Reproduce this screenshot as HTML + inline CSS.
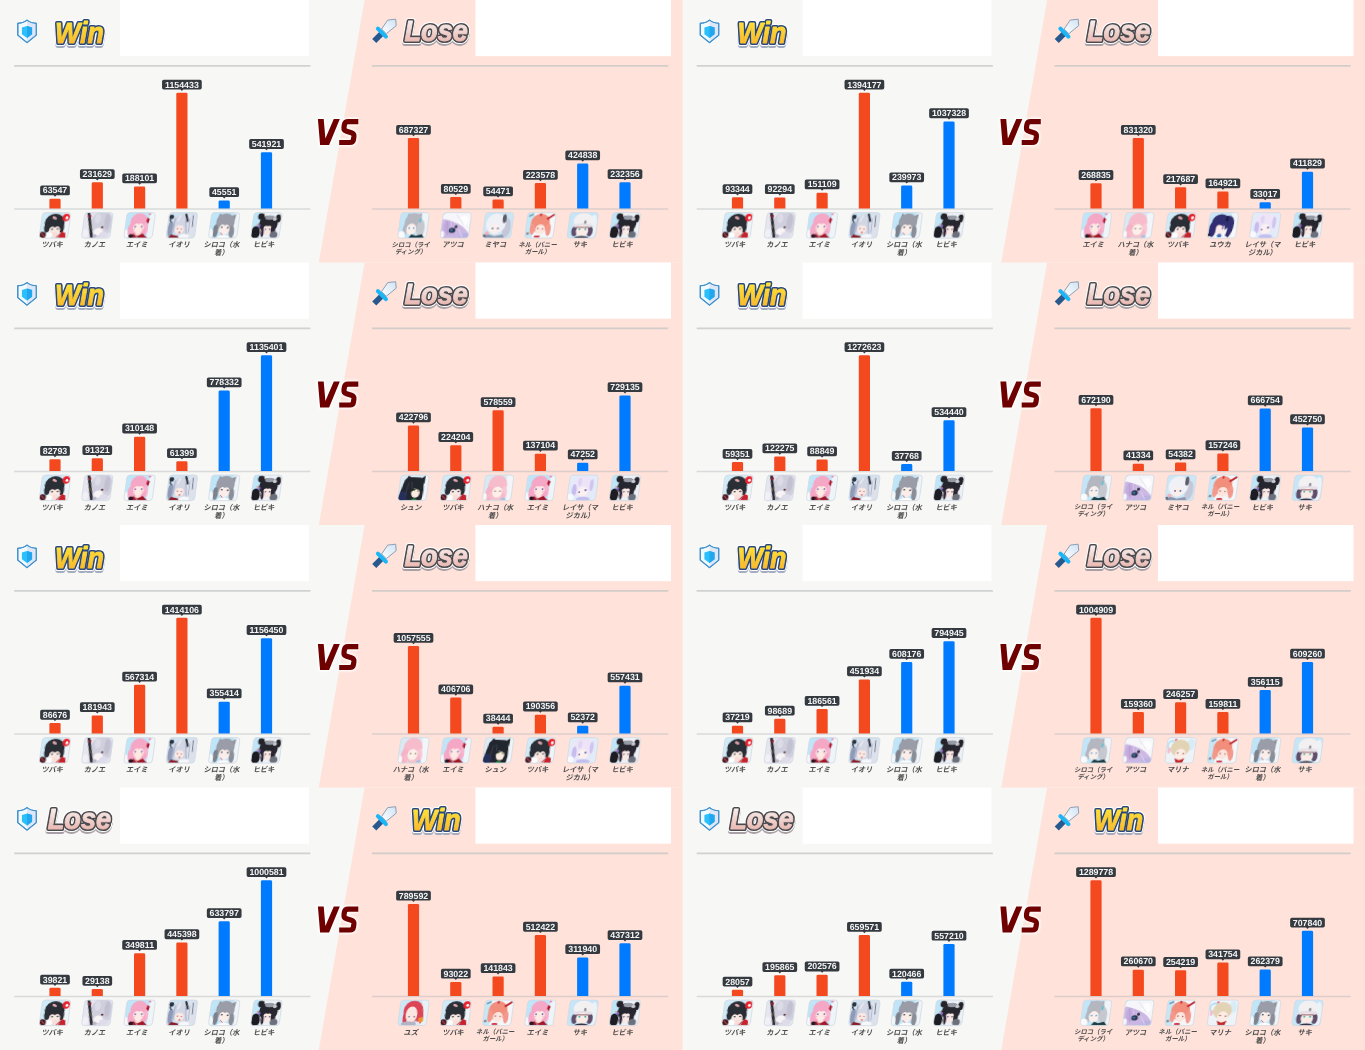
<!DOCTYPE html>
<html lang="ja"><head><meta charset="utf-8"><title>Battle results</title>
<style>
html,body{margin:0;padding:0;background:#f7f7f5;}
body{width:1365px;height:1050px;overflow:hidden;font-family:"Liberation Sans",sans-serif;}
svg{display:block;font-family:"Liberation Sans",sans-serif;opacity:0.999;}
.v{text-rendering:geometricPrecision;font-size:8.8px;font-weight:700;fill:#f6f6f6;text-anchor:middle;}
.n{fill:#4e4e4e;}
.n text{font-family:"Liberation Sans","Noto Sans CJK JP",sans-serif;font-weight:700;text-anchor:middle;}
.bd{fill:#343a40;}
.r{fill:#f4481f;}
.b{fill:#007bff;}
.ax{stroke:#b2b6bd;stroke-opacity:0.45;stroke-width:1.65;}
.dv{stroke:#c3c6c5;stroke-opacity:0.75;stroke-width:1.6;}
.hd{font-weight:700;font-style:italic;font-size:29px;}
</style></head><body>
<svg width="1365" height="1050" viewBox="0 0 1365 1050">
<defs><clipPath id="avc"><rect width="28.8" height="25.5" rx="3"/></clipPath><filter id="avb" x="-10%" y="-10%" width="120%" height="120%"><feGaussianBlur stdDeviation="0.55"/></filter><filter id="glow" x="-20%" y="-20%" width="140%" height="140%"><feGaussianBlur stdDeviation="1.1"/></filter><filter id="sh" x="-20%" y="-20%" width="140%" height="150%"><feGaussianBlur stdDeviation="0.5"/></filter><linearGradient id="gw" x1="0" y1="0" x2="0" y2="1"><stop offset="0.1" stop-color="#ffe43a"/><stop offset="1" stop-color="#f8b02a"/></linearGradient><linearGradient id="gl" x1="0" y1="0" x2="0" y2="1"><stop offset="0.15" stop-color="#f8f1ef"/><stop offset="1" stop-color="#e6aaa2"/></linearGradient><linearGradient id="gb" x1="0" y1="1" x2="1" y2="0"><stop offset="0" stop-color="#ffffff"/><stop offset="1" stop-color="#cfe3f4"/></linearGradient><g id="av-tsubaki"><g transform="matrix(0.985 0 -0.137 1 3.49 0)"><g clip-path="url(#avc)" filter="url(#avb)"><rect x="-2" y="-2" width="33" height="30" fill="#d0eaf8"/><rect x="22" y="-2" width="33" height="30" fill="#eef5f9"/><ellipse cx="13.7" cy="10.2" rx="10.1" ry="9.2" fill="#2b2d35"/><ellipse cx="6.6" cy="15" rx="3" ry="5" fill="#2b2d35"/><ellipse cx="21.4" cy="15" rx="2.6" ry="5" fill="#2b2d35"/><ellipse cx="14.6" cy="17.8" rx="5.6" ry="4.8" fill="#fae8e2"/><ellipse cx="15.6" cy="22.6" rx="2.6" ry="3.2" fill="#f9ddd6"/><path d="M8.4 16 Q11 12.6 14.6 15 Q18 12.4 21.2 16 L21.2 10 L8.4 10z" fill="#2b2d35"/><ellipse cx="12" cy="16.6" rx="1.2" ry="0.8" fill="#35454c"/><ellipse cx="17.6" cy="16.4" rx="1.2" ry="0.8" fill="#35454c"/><ellipse cx="13" cy="5.4" rx="2.4" ry="1.2" fill="#e3aab4" transform="rotate(25 13 5.4)"/><ellipse cx="24.8" cy="4.8" rx="3.7" ry="3.9" fill="#e8222e"/><ellipse cx="25.5" cy="5.2" rx="1.3" ry="1.5" fill="#fff"/><ellipse cx="9.3" cy="23" rx="3.3" ry="3" fill="#fff"/><path d="M18.6 25.5 L22.4 18.8 L26 20.4 L26.8 25.5z" fill="#c8202c"/><path d="M17.2 24.8 L22.4 19.6" stroke="#c23038" stroke-width="1.1" stroke-linecap="round" fill="none"/><ellipse cx="2.8" cy="22.6" rx="3.8" ry="3.6" fill="#4c1a22"/><path d="M1.5 20.5 L5.5 24.5" stroke="#c85868" stroke-width="0.9" stroke-linecap="round" fill="none"/></g><rect width="28.8" height="25.5" rx="3" fill="none" stroke="#d2dae3" stroke-width="0.8"/></g></g><g id="av-kanoe"><g transform="matrix(0.985 0 -0.137 1 3.49 0)"><g clip-path="url(#avc)" filter="url(#avb)"><rect x="-2" y="-2" width="33" height="30" fill="#e6e5f0"/><ellipse cx="18.5" cy="11.5" rx="11.5" ry="13" fill="#d0cfdd"/><ellipse cx="24" cy="9" rx="3" ry="8" fill="#c2c1d2"/><ellipse cx="14" cy="6" rx="3" ry="5" fill="#dcdbe6"/><ellipse cx="16.2" cy="19.2" rx="4.8" ry="3.8" fill="#f8f3f5"/><ellipse cx="22" cy="22" rx="4.5" ry="3" fill="#dedce8"/><path d="M2.6 0 L5.6 0 L11.8 25.5 L8.8 25.5z" fill="#2d2e35"/><ellipse cx="5.8" cy="3.6" rx="1.5" ry="1.5" fill="#8a2430"/><path d="M7 13 L7.6 15" stroke="#a09030" stroke-width="0.6" stroke-linecap="round" fill="none"/><ellipse cx="19.6" cy="14.6" rx="1.3" ry="1" fill="#5a2a30"/><ellipse cx="3" cy="21" rx="3" ry="4.5" fill="#f0f0f6"/><ellipse cx="13" cy="23.5" rx="2" ry="2" fill="#b8b6c8"/></g><rect width="28.8" height="25.5" rx="3" fill="none" stroke="#d2dae3" stroke-width="0.8"/></g></g><g id="av-eimi"><g transform="matrix(0.985 0 -0.137 1 3.49 0)"><g clip-path="url(#avc)" filter="url(#avb)"><rect x="-2" y="-2" width="33" height="30" fill="#bfe5f8"/><rect x="23" y="-2" width="33" height="30" fill="#eef5f9"/><ellipse cx="1" cy="22" rx="5" ry="5" fill="#f4f8fa"/><ellipse cx="13.4" cy="9.4" rx="8.8" ry="9" fill="#f5a7c6"/><ellipse cx="5.8" cy="17.5" rx="3" ry="6.5" fill="#f5a7c6"/><ellipse cx="20.6" cy="16" rx="2.8" ry="6" fill="#f7b4cd"/><ellipse cx="13.4" cy="18.6" rx="8.4" ry="5" fill="#f5a7c6"/><ellipse cx="13.8" cy="20" rx="2.6" ry="2.6" fill="#fbe3dc"/><ellipse cx="13.6" cy="15.2" rx="5.4" ry="5.2" fill="#fdeae4"/><path d="M8 13 Q10.5 9.5 13.6 11.6 Q17 9.5 19.4 13 L19.4 8 L8 8z" fill="#f5a7c6"/><ellipse cx="10.2" cy="14.2" rx="0.9" ry="1" fill="#8668b8"/><ellipse cx="16.8" cy="14" rx="0.9" ry="1" fill="#8668b8"/><ellipse cx="9.2" cy="16.6" rx="1.2" ry="0.7" fill="#f8c0c8"/><ellipse cx="17.8" cy="16.6" rx="1.2" ry="0.7" fill="#f8c0c8"/><path d="M21.4 4.6 L24 6.4 L22.8 11.4 L20.6 8.6z" fill="#b01830"/><ellipse cx="23.4" cy="1.6" rx="1.4" ry="1" fill="#f27aa8"/><path d="M5.6 25.5 L9 21 L13.6 23.2 L18.6 20.8 L24 25.5z" fill="#a31828"/><ellipse cx="6.8" cy="23.6" rx="2.4" ry="2.2" fill="#2a1820"/><path d="M11 22 L13.6 25" stroke="#d8d0d8" stroke-width="0.8" stroke-linecap="round" fill="none"/></g><rect width="28.8" height="25.5" rx="3" fill="none" stroke="#d2dae3" stroke-width="0.8"/></g></g><g id="av-iori"><g transform="matrix(0.985 0 -0.137 1 3.49 0)"><g clip-path="url(#avc)" filter="url(#avb)"><rect x="-2" y="-2" width="33" height="30" fill="#cfe3f1"/><ellipse cx="13.5" cy="12" rx="9.2" ry="10.4" fill="#d3d7e4"/><ellipse cx="24" cy="13" rx="5.5" ry="13" fill="#dde1eb"/><ellipse cx="3.4" cy="16.6" rx="3.2" ry="7.6" fill="#8e9ab8"/><path d="M7 6 L5.4 20" stroke="#aeb6cc" stroke-width="1.6" stroke-linecap="round" fill="none"/><path d="M17.6 8 L20 22" stroke="#b4bbcf" stroke-width="1.4" stroke-linecap="round" fill="none"/><path d="M12 3 L9 10" stroke="#eef0f6" stroke-width="1.2" stroke-linecap="round" fill="none"/><ellipse cx="12.2" cy="16.8" rx="4.6" ry="4.6" fill="#f9eae6"/><path d="M7.8 15 Q10 11 13 13.4 Q15 11.4 17 15 L17 9 L7.8 9z" fill="#d3d7e4"/><ellipse cx="2.9" cy="4.4" rx="2.5" ry="2.3" fill="#2c3242"/><path d="M1.6 7 L3 9.4" stroke="#2c3242" stroke-width="1.4" stroke-linecap="round" fill="none"/><path d="M16 1.2 L18.2 0.8 L21 8.8 L19 9.6z" fill="#2c3242"/><path d="M24.6 3 L25.2 14" stroke="#6a7490" stroke-width="1" stroke-linecap="round" fill="none"/><path d="M21.4 6 L22 20" stroke="#aab2c8" stroke-width="0.9" stroke-linecap="round" fill="none"/><ellipse cx="10.4" cy="16" rx="0.8" ry="0.6" fill="#b86068"/><ellipse cx="14.4" cy="16.4" rx="0.8" ry="0.6" fill="#b86068"/><ellipse cx="12.8" cy="19.8" rx="1.1" ry="0.7" fill="#c05058"/><path d="M1.6 25.5 L4.6 21.8 L11.6 23.2 L12.6 25.5z" fill="#8a1c26"/><ellipse cx="18" cy="24" rx="5" ry="2.6" fill="#f6f7fa"/></g><rect width="28.8" height="25.5" rx="3" fill="none" stroke="#d2dae3" stroke-width="0.8"/></g></g><g id="av-shirokos"><g transform="matrix(0.985 0 -0.137 1 3.49 0)"><g clip-path="url(#avc)" filter="url(#avb)"><rect x="-2" y="-2" width="33" height="30" fill="#bfe5f8"/><rect x="23" y="-2" width="33" height="30" fill="#eef4f8"/><path d="M6.4 7.4 L8.6 0.8 L13 4z" fill="#90939e"/><path d="M20 4 L25.2 1.2 L24.4 8.4z" fill="#90939e"/><ellipse cx="15.2" cy="10" rx="9.4" ry="9.2" fill="#9a9da8"/><ellipse cx="6.1" cy="18.4" rx="2.7" ry="6.6" fill="#7e828c"/><ellipse cx="22.6" cy="19.6" rx="2.7" ry="6.4" fill="#8a8e98"/><ellipse cx="14.8" cy="16.6" rx="5.4" ry="5.8" fill="#fbedea"/><path d="M9.4 14 Q12 10.6 15 12.8 Q18 10.8 20.4 14.4 L20.4 8 L9.4 8z" fill="#9a9da8"/><ellipse cx="12.2" cy="14.6" rx="1.1" ry="0.8" fill="#33474c"/><ellipse cx="18.2" cy="15.2" rx="1.1" ry="0.8" fill="#33474c"/><path d="M11.8 20.4 L13.6 22.2" stroke="#c03848" stroke-width="0.9" stroke-linecap="round" fill="none"/><ellipse cx="15" cy="25" rx="6.4" ry="2.4" fill="#fcfcfd"/><ellipse cx="1.5" cy="21" rx="2.5" ry="5" fill="#f2f7fa"/></g><rect width="28.8" height="25.5" rx="3" fill="none" stroke="#d2dae3" stroke-width="0.8"/></g></g><g id="av-hibiki"><g transform="matrix(0.985 0 -0.137 1 3.49 0)"><g clip-path="url(#avc)" filter="url(#avb)"><rect x="-2" y="-2" width="33" height="30" fill="#bfe5f8"/><rect x="8" y="-2" width="33" height="30" fill="#ecf1f6"/><ellipse cx="8" cy="4" rx="3.4" ry="3.4" fill="#25222a"/><ellipse cx="25.4" cy="6" rx="2.8" ry="4.2" fill="#25222a"/><ellipse cx="16.1" cy="11.4" rx="9.6" ry="8.4" fill="#28252e"/><ellipse cx="16.6" cy="5" rx="4.6" ry="2.2" fill="#979ba6"/><ellipse cx="22" cy="6.4" rx="2" ry="1.6" fill="#c8ccd4"/><ellipse cx="15.8" cy="17.6" rx="4.7" ry="5" fill="#f9e9e5"/><path d="M10.6 15.6 Q13 11.6 16 13.8 Q19 11.8 21 15.6 L21 10 L10.6 10z" fill="#28252e"/><ellipse cx="21.6" cy="17.4" rx="2.4" ry="6.4" fill="#2b2632"/><ellipse cx="11" cy="20" rx="1.5" ry="4.4" fill="#34283e"/><ellipse cx="4" cy="20" rx="4.7" ry="6.6" fill="#1e1c23"/><ellipse cx="6.9" cy="13.2" rx="1.3" ry="1.6" fill="#8a70d0"/><ellipse cx="5.2" cy="11.8" rx="0.8" ry="0.8" fill="#e09050"/><ellipse cx="22.8" cy="22.2" rx="4" ry="3.4" fill="#6c707c"/><ellipse cx="13.8" cy="16.6" rx="0.9" ry="0.7" fill="#5a4a70"/><ellipse cx="18" cy="16.6" rx="0.9" ry="0.7" fill="#5a4a70"/></g><rect width="28.8" height="25.5" rx="3" fill="none" stroke="#d2dae3" stroke-width="0.8"/></g></g><g id="av-shirokor"><g transform="matrix(0.985 0 -0.137 1 3.49 0)"><g clip-path="url(#avc)" filter="url(#avb)"><rect x="-2" y="-2" width="33" height="30" fill="#c2e5f7"/><rect x="21" y="-2" width="33" height="30" fill="#eef4f8"/><path d="M6.5 6 L8 0.6 L12 3z" fill="#a9abb6"/><path d="M17 2.6 L21.6 0.6 L21.6 7z" fill="#a9abb6"/><ellipse cx="14" cy="10" rx="9" ry="9.8" fill="#b4b6c0"/><ellipse cx="22" cy="16" rx="4" ry="9" fill="#c6c8d0"/><ellipse cx="6.4" cy="17" rx="2.4" ry="6" fill="#b4b6c0"/><ellipse cx="12.6" cy="16.6" rx="5" ry="5.6" fill="#fbefea"/><ellipse cx="10.4" cy="15.4" rx="0.9" ry="0.9" fill="#4a9ee0"/><ellipse cx="15" cy="15.4" rx="0.9" ry="0.9" fill="#4a9ee0"/><ellipse cx="20.6" cy="8" rx="1" ry="2.4" fill="#58c0d0"/><path d="M10.5 25.5 L13.5 21.6 L18 23 L24 21.6 L27 25.5z" fill="#1c3a42"/><ellipse cx="3" cy="22.5" rx="4" ry="4" fill="#f8fafb"/></g><rect width="28.8" height="25.5" rx="3" fill="none" stroke="#d2dae3" stroke-width="0.8"/></g></g><g id="av-atsuko"><g transform="matrix(0.985 0 -0.137 1 3.49 0)"><g clip-path="url(#avc)" filter="url(#avb)"><rect x="-2" y="-2" width="33" height="30" fill="#ccb8e3"/><ellipse cx="7" cy="14" rx="5" ry="7" fill="#c3abdd"/><ellipse cx="16" cy="22" rx="8" ry="4" fill="#c9b6e4"/><ellipse cx="24" cy="23.5" rx="5" ry="3" fill="#b9b2e2"/><path d="M5 9 L7 22" stroke="#b69dd4" stroke-width="1.2" stroke-linecap="round" fill="none"/><path d="M9 9 L10 14" stroke="#d9c9ec" stroke-width="1.2" stroke-linecap="round" fill="none"/><path d="M18 17 L22 24" stroke="#d8c8ec" stroke-width="1.4" stroke-linecap="round" fill="none"/><path d="M-2 8 L-2 -2 L31 -2 L31 24 Q24 14.5 17.1 11.4 Q9 8 2 6.4z" fill="#f6f6fa"/><path d="M-2 -2 L8 -2 Q2 0 -2 6z" fill="#d4eaf7"/><ellipse cx="22" cy="8" rx="5" ry="5" fill="#fdfdfe"/><path d="M14 2 L22 12" stroke="#e6e6f0" stroke-width="1.2" stroke-linecap="round" fill="none"/><ellipse cx="11.3" cy="17.8" rx="3.4" ry="2.6" fill="#2a3850"/><ellipse cx="10.6" cy="17.6" rx="1.4" ry="1" fill="#3f78a8"/><ellipse cx="14.8" cy="14.2" rx="1.5" ry="1.7" fill="#3a3a4c"/><ellipse cx="1.4" cy="22" rx="2.4" ry="3.6" fill="#f4f6fa"/></g><rect width="28.8" height="25.5" rx="3" fill="none" stroke="#d2dae3" stroke-width="0.8"/></g></g><g id="av-miyako"><g transform="matrix(0.985 0 -0.137 1 3.49 0)"><g clip-path="url(#avc)" filter="url(#avb)"><rect x="-2" y="-2" width="33" height="30" fill="#cde6f5"/><ellipse cx="23" cy="15" rx="4.4" ry="9.5" fill="#c3c7d7"/><ellipse cx="12" cy="11" rx="10" ry="10" fill="#f0f1f7"/><ellipse cx="20.2" cy="6" rx="2" ry="4.6" fill="#5c5c68"/><ellipse cx="11.6" cy="16.6" rx="5" ry="5" fill="#fbefeb"/><ellipse cx="9.2" cy="15.8" rx="1" ry="0.9" fill="#5a62a0"/><ellipse cx="14.6" cy="15.8" rx="1" ry="0.9" fill="#5a62a0"/><path d="M2.5 25.5 L4.5 21.4 L12 23.6 L20 21.8 L22.5 25.5z" fill="#8d95ab"/><ellipse cx="4" cy="20.4" rx="2.2" ry="1.8" fill="#f2b2ba"/><ellipse cx="1.6" cy="23.6" rx="2.2" ry="2" fill="#6a7084"/></g><rect width="28.8" height="25.5" rx="3" fill="none" stroke="#d2dae3" stroke-width="0.8"/></g></g><g id="av-neru"><g transform="matrix(0.985 0 -0.137 1 3.49 0)"><g clip-path="url(#avc)" filter="url(#avb)"><rect x="-2" y="-2" width="33" height="30" fill="#c6e7f6"/><rect x="7" y="-2" width="33" height="30" fill="#f4f6f8"/><ellipse cx="14" cy="10.6" rx="9.6" ry="9.6" fill="#f28e7c"/><ellipse cx="6.6" cy="16.4" rx="2.6" ry="6" fill="#f3988a"/><ellipse cx="22.8" cy="17" rx="2.6" ry="6.4" fill="#f3988a"/><ellipse cx="14.6" cy="16.8" rx="5" ry="5" fill="#fce5dd"/><path d="M19.6 5.6 L26.8 1 L28.2 2.6 L21 7.4z" fill="#c0202e"/><ellipse cx="13.6" cy="2" rx="1.2" ry="1.6" fill="#c83040"/><path d="M1.5 3 L6 1 L6.5 2.2 L2 4.4z" fill="#6a90a8"/><ellipse cx="12.2" cy="24" rx="3.2" ry="1.3" fill="#d03444"/><ellipse cx="2.4" cy="21" rx="1.4" ry="1.4" fill="#8a8a92"/><ellipse cx="12" cy="16" rx="0.8" ry="0.8" fill="#b06060"/><ellipse cx="17" cy="16.4" rx="0.8" ry="0.8" fill="#b06060"/></g><rect width="28.8" height="25.5" rx="3" fill="none" stroke="#d2dae3" stroke-width="0.8"/></g></g><g id="av-saki"><g transform="matrix(0.985 0 -0.137 1 3.49 0)"><g clip-path="url(#avc)" filter="url(#avb)"><rect x="-2" y="-2" width="33" height="30" fill="#c6e5f6"/><ellipse cx="25" cy="14" rx="4" ry="12" fill="#ecf3f8"/><ellipse cx="6.8" cy="18.6" rx="3.2" ry="5.2" fill="#5e4e6c"/><ellipse cx="22.2" cy="18.6" rx="3.2" ry="5.2" fill="#5e4e6c"/><ellipse cx="14.5" cy="8" rx="10" ry="7.6" fill="#f3f0f2"/><ellipse cx="14.5" cy="13" rx="10.6" ry="2.4" fill="#e6e1e7"/><ellipse cx="14.5" cy="18.4" rx="6.2" ry="5.6" fill="#fbebe7"/><ellipse cx="11.6" cy="16.6" rx="1" ry="0.9" fill="#30b0a0"/><ellipse cx="17.6" cy="16.6" rx="1" ry="0.9" fill="#30b0a0"/><ellipse cx="16.6" cy="9.6" rx="1.2" ry="1.8" fill="#8a8a94"/><ellipse cx="14.5" cy="25.6" rx="7.4" ry="2.2" fill="#3a3048"/><path d="M8 14 L21 14 L21 15.4 L8 15.4z" fill="#b08890"/></g><rect width="28.8" height="25.5" rx="3" fill="none" stroke="#d2dae3" stroke-width="0.8"/></g></g><g id="av-hanako"><g transform="matrix(0.985 0 -0.137 1 3.49 0)"><g clip-path="url(#avc)" filter="url(#avb)"><rect x="-2" y="-2" width="33" height="30" fill="#d8e9f4"/><rect x="22" y="-2" width="33" height="30" fill="#f2f6f9"/><ellipse cx="13.6" cy="10" rx="9.6" ry="10" fill="#f6bccb"/><ellipse cx="6" cy="19" rx="4" ry="8" fill="#f5b4c6"/><ellipse cx="21" cy="18" rx="3" ry="7" fill="#f8c8d4"/><ellipse cx="14" cy="20" rx="8.6" ry="5" fill="#f6bccb"/><ellipse cx="14" cy="17" rx="5" ry="5.6" fill="#fdefea"/><ellipse cx="11.8" cy="16" rx="1" ry="0.7" fill="#8a7a60"/><ellipse cx="16.8" cy="16" rx="1" ry="0.7" fill="#8a7a60"/><ellipse cx="16" cy="24.6" rx="6" ry="2" fill="#f4c4cc"/><ellipse cx="21" cy="24" rx="2.4" ry="1.6" fill="#a8c0e0"/><ellipse cx="1.6" cy="22" rx="2.4" ry="4" fill="#f6f8fa"/></g><rect width="28.8" height="25.5" rx="3" fill="none" stroke="#d2dae3" stroke-width="0.8"/></g></g><g id="av-yuuka"><g transform="matrix(0.985 0 -0.137 1 3.49 0)"><g clip-path="url(#avc)" filter="url(#avb)"><rect x="-2" y="-2" width="33" height="30" fill="#c8e6f7"/><rect x="22" y="-2" width="33" height="30" fill="#eef4f8"/><path d="M-2 16 L30 16 L30 28 L-2 28z" fill="#f6f8fa"/><ellipse cx="4.2" cy="17" rx="3.6" ry="7.4" fill="#322d72"/><ellipse cx="12" cy="10" rx="9.2" ry="8.6" fill="#322d72"/><path d="M17 3 Q26 2 25.5 12 Q25 20 21 25 L17.6 23 Q21 15 18 8z" fill="#322d72"/><ellipse cx="18" cy="6.4" rx="1.6" ry="2.6" fill="#1e1c40"/><ellipse cx="12.2" cy="16.6" rx="4.6" ry="5.2" fill="#fbebe9"/><path d="M8 12 L14 9 L15.5 15 L13 13z" fill="#322d72"/><ellipse cx="14.6" cy="15.6" rx="0.9" ry="1" fill="#4a50c0"/><ellipse cx="12" cy="23" rx="2.4" ry="2" fill="#3a70b8"/><ellipse cx="1.6" cy="22" rx="1.6" ry="2" fill="#2a2840"/></g><rect width="28.8" height="25.5" rx="3" fill="none" stroke="#d2dae3" stroke-width="0.8"/></g></g><g id="av-reisa"><g transform="matrix(0.985 0 -0.137 1 3.49 0)"><g clip-path="url(#avc)" filter="url(#avb)"><rect x="-2" y="-2" width="33" height="30" fill="#e4ebf8"/><ellipse cx="14" cy="11" rx="10.4" ry="10.4" fill="#ede5f7"/><ellipse cx="6" cy="15" rx="2.4" ry="6" fill="#c6bcee"/><ellipse cx="23" cy="10" rx="2" ry="6" fill="#d0c4f0"/><ellipse cx="11" cy="7" rx="2" ry="4" fill="#e0d4f4"/><ellipse cx="15" cy="16.6" rx="5" ry="5" fill="#fdf1ef"/><ellipse cx="17.6" cy="15" rx="1.1" ry="1.1" fill="#5068c8"/><ellipse cx="11.4" cy="17" rx="0.9" ry="0.9" fill="#6060a0"/><ellipse cx="16" cy="24" rx="7" ry="2.4" fill="#c2bef0"/><ellipse cx="3" cy="22" rx="3.4" ry="3.4" fill="#f8f9fc"/></g><rect width="28.8" height="25.5" rx="3" fill="none" stroke="#d2dae3" stroke-width="0.8"/></g></g><g id="av-shun"><g transform="matrix(0.985 0 -0.137 1 3.49 0)"><g clip-path="url(#avc)" filter="url(#avb)"><rect x="-2" y="-2" width="33" height="30" fill="#dcebf5"/><rect x="24" y="-2" width="33" height="30" fill="#eef4f8"/><path d="M5 6 L8 0.4 L12 3z" fill="#24272f"/><path d="M20.4 3.6 L25.4 0.6 L25 9z" fill="#24272f"/><path d="M-1 25.5 L4.6 5 Q7 1.6 12 2 L21 2.6 Q24.6 6 24.6 12 Q25.4 20 23.6 25.5z" fill="#24272f"/><ellipse cx="4.6" cy="21.6" rx="4.2" ry="5.4" fill="#272e5c"/><path d="M9 8 L7 20" stroke="#343a48" stroke-width="1.2" stroke-linecap="round" fill="none"/><path d="M12 7 L13 13" stroke="#3a3f4c" stroke-width="1" stroke-linecap="round" fill="none"/><ellipse cx="17" cy="17.8" rx="4.2" ry="4.8" fill="#fbebe1"/><path d="M12.6 14 L21.4 12 L21.8 15 L17.4 14 L13.4 16.4z" fill="#24272f"/><ellipse cx="16.4" cy="24.8" rx="2.6" ry="1.5" fill="#2c8a48"/><ellipse cx="15.6" cy="15.4" rx="0.9" ry="0.8" fill="#88a838"/><ellipse cx="19.4" cy="15.8" rx="0.8" ry="0.7" fill="#5a6a30"/></g><rect width="28.8" height="25.5" rx="3" fill="none" stroke="#d2dae3" stroke-width="0.8"/></g></g><g id="av-marina"><g transform="matrix(0.985 0 -0.137 1 3.49 0)"><g clip-path="url(#avc)" filter="url(#avb)"><rect x="-2" y="-2" width="33" height="30" fill="#eef3f7"/><circle cx="5.4" cy="8" r="4.6" fill="none" stroke="#a8def4" stroke-width="1.6"/><ellipse cx="24" cy="7" rx="4" ry="6" fill="#d8ecf6"/><ellipse cx="13.6" cy="10.6" rx="9.6" ry="8.6" fill="#e3d3b5"/><ellipse cx="14.6" cy="16.8" rx="5.4" ry="5.6" fill="#fdece5"/><ellipse cx="11.8" cy="15.4" rx="1.1" ry="0.7" fill="#9a6a50"/><ellipse cx="17.6" cy="16" rx="1.1" ry="0.7" fill="#9a6a50"/><ellipse cx="8.4" cy="2.2" rx="1.4" ry="1" fill="#e86a7a"/><path d="M9 20.6 L14 22.6 L19.4 20.6 L17.4 25.5 L11 25.5z" fill="#c22a2a"/><ellipse cx="2.6" cy="13" rx="1.6" ry="3" fill="#f4c0d0"/></g><rect width="28.8" height="25.5" rx="3" fill="none" stroke="#d2dae3" stroke-width="0.8"/></g></g><g id="av-yuzu"><g transform="matrix(0.985 0 -0.137 1 3.49 0)"><g clip-path="url(#avc)" filter="url(#avb)"><rect x="-2" y="-2" width="33" height="30" fill="#cde7f6"/><rect x="22" y="-2" width="33" height="30" fill="#e9f1f7"/><ellipse cx="14" cy="11" rx="10" ry="10.6" fill="#dc4456"/><ellipse cx="21.4" cy="16" rx="3.4" ry="8" fill="#dc4456"/><ellipse cx="6.4" cy="18" rx="2.4" ry="6" fill="#d84054"/><ellipse cx="12.6" cy="14.4" rx="5.8" ry="8" fill="#fbe7e1"/><ellipse cx="10.4" cy="16.6" rx="1" ry="0.8" fill="#7a6a90"/><ellipse cx="15.6" cy="16.6" rx="1" ry="0.8" fill="#7a6a90"/><ellipse cx="22.6" cy="19.6" rx="2.6" ry="2.6" fill="#f0922e"/><ellipse cx="11" cy="23.8" rx="8" ry="2.4" fill="#b4b2c4"/><ellipse cx="20" cy="23.6" rx="2" ry="2" fill="#e8e8f0"/></g><rect width="28.8" height="25.5" rx="3" fill="none" stroke="#d2dae3" stroke-width="0.8"/></g></g><g id="shield"><path d="M10 0.6 Q6.6 3.6 0.4 3.9 L0.4 16.2 L10 24.1 L19.6 16.2 L19.6 3.9 Q13.4 3.6 10 0.6z" fill="#f1fbff" stroke="#3f90cc" stroke-width="1.15" stroke-linejoin="round"/><path d="M10 1.4 Q13.4 4 19 4.4 L19 15.9 L10 23.3z" fill="#dfe7f6"/><path d="M10 6.7 L4.7 8.3 L4.7 15.4 L10 19.2 L15.3 15.4 L15.3 8.3z" fill="#2bc0f9"/><path d="M10 6.7 L10 19.2 L15.3 15.4 L15.3 8.3z" fill="#22a6f0"/><path d="M10 0.6 Q6.6 3.6 0.4 3.9 L0.4 16.2 L10 24.1 L19.6 16.2 L19.6 3.9 Q13.4 3.6 10 0.6z" fill="none" stroke="#3f90cc" stroke-width="1.15" stroke-linejoin="round"/></g><g id="sword"><path d="M0.2 20.5 L4.3 24.6 L11.9 16.7 L7.9 12.8z" fill="#27598e"/><path d="M9.6 10.5 L15.7 1.6 L23.7 0.7 L24.2 7.2 L14.3 15.2z" fill="url(#gb)" stroke="#8f9fb4" stroke-width="1" stroke-linejoin="round"/><path d="M5.9 10.1 L13.9 18.1" stroke="#1cb6f7" stroke-width="4.1" stroke-linecap="round" fill="none"/></g><g id="vs"><g filter="url(#glow)" opacity="0.9"><path d="M17.9 14 L23.7 14 L25.4 33.4 L33.8 14 L39.8 14 L29.1 40.1 L20.1 40.1z" fill="#fff" stroke="#fff" stroke-width="3"/><path d="M58.3 16.6 L48.2 16.6 Q44.9 16.6 44.4 19.6 L44 22.4 Q43.7 25.3 46.6 26.2 L51.4 27.7 Q54.2 28.6 53.9 31.4 L53.5 34.4 Q53.1 37.5 49.8 37.5 L39.2 37.5" fill="none" stroke="#fff" stroke-width="8.2"/></g><path d="M17.9 14 L23.7 14 L25.4 33.4 L33.8 14 L39.8 14 L29.1 40.1 L20.1 40.1z" fill="#6e0000"/><path d="M58.3 16.6 L48.2 16.6 Q44.9 16.6 44.4 19.6 L44 22.4 Q43.7 25.3 46.6 26.2 L51.4 27.7 Q54.2 28.6 53.9 31.4 L53.5 34.4 Q53.1 37.5 49.8 37.5 L39.2 37.5" fill="none" stroke="#6e0000" stroke-width="5.2"/></g><text id="t-win">Win</text><text id="t-lose">Lose</text></defs>
<rect width="1365" height="1050" fill="#f7f7f5"/>
<g transform="translate(0 0)">
<path fill="#ffe2d9" d="M364.6 0 H682.5 V262.5 H318.8 z"/>
<rect x="120" y="0" width="189" height="56.2" fill="#fff"/>
<rect x="475.5" y="0" width="195.5" height="56.2" fill="#fff"/>
<use href="#shield" transform="translate(17.4 19.5) scale(0.96)"/>
<use href="#sword" x="372" y="18.5"/>
<g class="hd" font-size="26" text-anchor="middle" stroke-linejoin="round" transform="translate(79.4 42.7) scale(0.925 1)">
<use href="#t-win" y="1.8" fill="#a4acbf" stroke="#a4acbf" stroke-width="5.8" filter="url(#sh)"/>
<use href="#t-win" fill="#fff" stroke="#fff" stroke-width="6.2"/>
<use href="#t-win" fill="#27477e" stroke="#27477e" stroke-width="4.2"/>
<text fill="url(#gw)" stroke="url(#gw)" stroke-width="0.9">Win</text>
</g>
<g class="hd" font-size="25.4" text-anchor="middle" stroke-linejoin="round" transform="translate(436.2 41.3) scale(0.935 1)">
<use href="#t-lose" y="1.8" fill="#a8a0a6" stroke="#a8a0a6" stroke-width="5.8" filter="url(#sh)"/>
<use href="#t-lose" fill="#fff" stroke="#fff" stroke-width="6.2"/>
<use href="#t-lose" fill="#4a4a4e" stroke="#4a4a4e" stroke-width="4.2"/>
<text fill="url(#gl)" stroke="url(#gl)" stroke-width="0.9">Lose</text>
</g>
<use href="#vs" x="300" y="105"/>
<line class="dv" x1="14.2" y1="65.9" x2="310.4" y2="65.9"/>
<line class="ax" x1="14.2" y1="209" x2="310.4" y2="209"/>
<path class="r" d="M49.4 208.6 V200.03 q0 -1.4 1.4 -1.4 h8.4 q1.4 0 1.4 1.4 V208.6 z"/>
<path class="bd" d="M41.85 185.53 h26.3 a1.7 1.7 0 0 1 1.7 1.7 v6.4 a1.7 1.7 0 0 1 -1.7 1.7 h-11.75 l-1.4 1.4 l-1.4 -1.4 h-11.75 a1.7 1.7 0 0 1 -1.7 -1.7 v-6.4 a1.7 1.7 0 0 1 1.7 -1.7 z"/>
<text class="v" x="55" y="193.33">63547</text>
<use href="#av-tsubaki" x="39.1" y="212.6"/>
<g class="n"><title>ツバキ</title>
<text transform="translate(52.2 247.4) skewX(-12)" font-size="7.2">ツバキ</text>
</g>
<path class="r" d="M91.7 208.6 V183.73 q0 -1.4 1.4 -1.4 h8.4 q1.4 0 1.4 1.4 V208.6 z"/>
<path class="bd" d="M81.65 169.23 h31.3 a1.7 1.7 0 0 1 1.7 1.7 v6.4 a1.7 1.7 0 0 1 -1.7 1.7 h-14.25 l-1.4 1.4 l-1.4 -1.4 h-14.25 a1.7 1.7 0 0 1 -1.7 -1.7 v-6.4 a1.7 1.7 0 0 1 1.7 -1.7 z"/>
<text class="v" x="97.3" y="177.03">231629</text>
<use href="#av-kanoe" x="81.4" y="212.6"/>
<g class="n"><title>カノエ</title>
<text transform="translate(94.5 247.4) skewX(-12)" font-size="7.2">カノエ</text>
</g>
<path class="r" d="M134 208.6 V187.95 q0 -1.4 1.4 -1.4 h8.4 q1.4 0 1.4 1.4 V208.6 z"/>
<path class="bd" d="M123.95 173.45 h31.3 a1.7 1.7 0 0 1 1.7 1.7 v6.4 a1.7 1.7 0 0 1 -1.7 1.7 h-14.25 l-1.4 1.4 l-1.4 -1.4 h-14.25 a1.7 1.7 0 0 1 -1.7 -1.7 v-6.4 a1.7 1.7 0 0 1 1.7 -1.7 z"/>
<text class="v" x="139.6" y="181.25">188101</text>
<use href="#av-eimi" x="123.7" y="212.6"/>
<g class="n"><title>エイミ</title>
<text transform="translate(136.8 247.4) skewX(-12)" font-size="7.2">エイミ</text>
</g>
<path class="r" d="M176.3 208.6 V94.2 q0 -1.4 1.4 -1.4 h8.4 q1.4 0 1.4 1.4 V208.6 z"/>
<path class="bd" d="M163.75 79.7 h36.3 a1.7 1.7 0 0 1 1.7 1.7 v6.4 a1.7 1.7 0 0 1 -1.7 1.7 h-16.75 l-1.4 1.4 l-1.4 -1.4 h-16.75 a1.7 1.7 0 0 1 -1.7 -1.7 v-6.4 a1.7 1.7 0 0 1 1.7 -1.7 z"/>
<text class="v" x="181.9" y="87.5">1154433</text>
<use href="#av-iori" x="166" y="212.6"/>
<g class="n"><title>イオリ</title>
<text transform="translate(179.1 247.4) skewX(-12)" font-size="7.2">イオリ</text>
</g>
<path class="b" d="M218.6 208.6 V201.78 q0 -1.4 1.4 -1.4 h8.4 q1.4 0 1.4 1.4 V208.6 z"/>
<path class="bd" d="M211.05 187.28 h26.3 a1.7 1.7 0 0 1 1.7 1.7 v6.4 a1.7 1.7 0 0 1 -1.7 1.7 h-11.75 l-1.4 1.4 l-1.4 -1.4 h-11.75 a1.7 1.7 0 0 1 -1.7 -1.7 v-6.4 a1.7 1.7 0 0 1 1.7 -1.7 z"/>
<text class="v" x="224.2" y="195.08">45551</text>
<use href="#av-shirokos" x="208.3" y="212.6"/>
<g class="n"><title>シロコ（水着）</title>
<text transform="translate(221.4 247.4) skewX(-12)" font-size="7.2">シロコ（水</text>
<text transform="translate(221.4 255.1) skewX(-12)" font-size="7.2">着）</text>
</g>
<path class="b" d="M260.9 208.6 V153.62 q0 -1.4 1.4 -1.4 h8.4 q1.4 0 1.4 1.4 V208.6 z"/>
<path class="bd" d="M250.85 139.12 h31.3 a1.7 1.7 0 0 1 1.7 1.7 v6.4 a1.7 1.7 0 0 1 -1.7 1.7 h-14.25 l-1.4 1.4 l-1.4 -1.4 h-14.25 a1.7 1.7 0 0 1 -1.7 -1.7 v-6.4 a1.7 1.7 0 0 1 1.7 -1.7 z"/>
<text class="v" x="266.5" y="146.92">541921</text>
<use href="#av-hibiki" x="250.6" y="212.6"/>
<g class="n"><title>ヒビキ</title>
<text transform="translate(263.7 247.4) skewX(-12)" font-size="7.2">ヒビキ</text>
</g>
<line class="dv" x1="372" y1="65.9" x2="668.2" y2="65.9"/>
<line class="ax" x1="372" y1="209" x2="668.2" y2="209"/>
<path class="r" d="M407.9 208.6 V139.52 q0 -1.4 1.4 -1.4 h8.4 q1.4 0 1.4 1.4 V208.6 z"/>
<path class="bd" d="M397.85 125.02 h31.3 a1.7 1.7 0 0 1 1.7 1.7 v6.4 a1.7 1.7 0 0 1 -1.7 1.7 h-14.25 l-1.4 1.4 l-1.4 -1.4 h-14.25 a1.7 1.7 0 0 1 -1.7 -1.7 v-6.4 a1.7 1.7 0 0 1 1.7 -1.7 z"/>
<text class="v" x="413.5" y="132.82">687327</text>
<use href="#av-shirokor" x="397.6" y="212.6"/>
<g class="n"><title>シロコ（ライディング）</title>
<text transform="translate(410.7 246.9) skewX(-12)" font-size="6.4">シロコ（ライ</text>
<text transform="translate(410.7 253.6) skewX(-12)" font-size="6.4">ディング）</text>
</g>
<path class="r" d="M450.2 208.6 V198.39 q0 -1.4 1.4 -1.4 h8.4 q1.4 0 1.4 1.4 V208.6 z"/>
<path class="bd" d="M442.65 183.89 h26.3 a1.7 1.7 0 0 1 1.7 1.7 v6.4 a1.7 1.7 0 0 1 -1.7 1.7 h-11.75 l-1.4 1.4 l-1.4 -1.4 h-11.75 a1.7 1.7 0 0 1 -1.7 -1.7 v-6.4 a1.7 1.7 0 0 1 1.7 -1.7 z"/>
<text class="v" x="455.8" y="191.69">80529</text>
<use href="#av-atsuko" x="439.9" y="212.6"/>
<g class="n"><title>アツコ</title>
<text transform="translate(453 247.4) skewX(-12)" font-size="7.2">アツコ</text>
</g>
<path class="r" d="M492.5 208.6 V200.92 q0 -1.4 1.4 -1.4 h8.4 q1.4 0 1.4 1.4 V208.6 z"/>
<path class="bd" d="M484.95 186.42 h26.3 a1.7 1.7 0 0 1 1.7 1.7 v6.4 a1.7 1.7 0 0 1 -1.7 1.7 h-11.75 l-1.4 1.4 l-1.4 -1.4 h-11.75 a1.7 1.7 0 0 1 -1.7 -1.7 v-6.4 a1.7 1.7 0 0 1 1.7 -1.7 z"/>
<text class="v" x="498.1" y="194.22">54471</text>
<use href="#av-miyako" x="482.2" y="212.6"/>
<g class="n"><title>ミヤコ</title>
<text transform="translate(495.3 247.4) skewX(-12)" font-size="7.2">ミヤコ</text>
</g>
<path class="r" d="M534.8 208.6 V184.51 q0 -1.4 1.4 -1.4 h8.4 q1.4 0 1.4 1.4 V208.6 z"/>
<path class="bd" d="M524.75 170.01 h31.3 a1.7 1.7 0 0 1 1.7 1.7 v6.4 a1.7 1.7 0 0 1 -1.7 1.7 h-14.25 l-1.4 1.4 l-1.4 -1.4 h-14.25 a1.7 1.7 0 0 1 -1.7 -1.7 v-6.4 a1.7 1.7 0 0 1 1.7 -1.7 z"/>
<text class="v" x="540.4" y="177.81">223578</text>
<use href="#av-neru" x="524.5" y="212.6"/>
<g class="n"><title>ネル（バニーガール）</title>
<text transform="translate(537.6 246.9) skewX(-12)" font-size="6.4">ネル（バニー</text>
<text transform="translate(537.6 253.6) skewX(-12)" font-size="6.4">ガール）</text>
</g>
<path class="b" d="M577.1 208.6 V164.98 q0 -1.4 1.4 -1.4 h8.4 q1.4 0 1.4 1.4 V208.6 z"/>
<path class="bd" d="M567.05 150.48 h31.3 a1.7 1.7 0 0 1 1.7 1.7 v6.4 a1.7 1.7 0 0 1 -1.7 1.7 h-14.25 l-1.4 1.4 l-1.4 -1.4 h-14.25 a1.7 1.7 0 0 1 -1.7 -1.7 v-6.4 a1.7 1.7 0 0 1 1.7 -1.7 z"/>
<text class="v" x="582.7" y="158.28">424838</text>
<use href="#av-saki" x="566.8" y="212.6"/>
<g class="n"><title>サキ</title>
<text transform="translate(579.9 247.4) skewX(-12)" font-size="7.2">サキ</text>
</g>
<path class="b" d="M619.4 208.6 V183.66 q0 -1.4 1.4 -1.4 h8.4 q1.4 0 1.4 1.4 V208.6 z"/>
<path class="bd" d="M609.35 169.16 h31.3 a1.7 1.7 0 0 1 1.7 1.7 v6.4 a1.7 1.7 0 0 1 -1.7 1.7 h-14.25 l-1.4 1.4 l-1.4 -1.4 h-14.25 a1.7 1.7 0 0 1 -1.7 -1.7 v-6.4 a1.7 1.7 0 0 1 1.7 -1.7 z"/>
<text class="v" x="625" y="176.96">232356</text>
<use href="#av-hibiki" x="609.1" y="212.6"/>
<g class="n"><title>ヒビキ</title>
<text transform="translate(622.2 247.4) skewX(-12)" font-size="7.2">ヒビキ</text>
</g>
</g>
<g transform="translate(682.5 0)">
<path fill="#ffe2d9" d="M364.6 0 H682.5 V262.5 H318.8 z"/>
<rect x="120" y="0" width="189" height="56.2" fill="#fff"/>
<rect x="475.5" y="0" width="195.5" height="56.2" fill="#fff"/>
<use href="#shield" transform="translate(17.4 19.5) scale(0.96)"/>
<use href="#sword" x="372" y="18.5"/>
<g class="hd" font-size="26" text-anchor="middle" stroke-linejoin="round" transform="translate(79.4 42.7) scale(0.925 1)">
<use href="#t-win" y="1.8" fill="#a4acbf" stroke="#a4acbf" stroke-width="5.8" filter="url(#sh)"/>
<use href="#t-win" fill="#fff" stroke="#fff" stroke-width="6.2"/>
<use href="#t-win" fill="#27477e" stroke="#27477e" stroke-width="4.2"/>
<text fill="url(#gw)" stroke="url(#gw)" stroke-width="0.9">Win</text>
</g>
<g class="hd" font-size="25.4" text-anchor="middle" stroke-linejoin="round" transform="translate(436.2 41.3) scale(0.935 1)">
<use href="#t-lose" y="1.8" fill="#a8a0a6" stroke="#a8a0a6" stroke-width="5.8" filter="url(#sh)"/>
<use href="#t-lose" fill="#fff" stroke="#fff" stroke-width="6.2"/>
<use href="#t-lose" fill="#4a4a4e" stroke="#4a4a4e" stroke-width="4.2"/>
<text fill="url(#gl)" stroke="url(#gl)" stroke-width="0.9">Lose</text>
</g>
<use href="#vs" x="300" y="105"/>
<line class="dv" x1="14.2" y1="65.9" x2="310.4" y2="65.9"/>
<line class="ax" x1="14.2" y1="209" x2="310.4" y2="209"/>
<path class="r" d="M49.4 208.6 V198.7 q0 -1.4 1.4 -1.4 h8.4 q1.4 0 1.4 1.4 V208.6 z"/>
<path class="bd" d="M41.85 184.2 h26.3 a1.7 1.7 0 0 1 1.7 1.7 v6.4 a1.7 1.7 0 0 1 -1.7 1.7 h-11.75 l-1.4 1.4 l-1.4 -1.4 h-11.75 a1.7 1.7 0 0 1 -1.7 -1.7 v-6.4 a1.7 1.7 0 0 1 1.7 -1.7 z"/>
<text class="v" x="55" y="192">93344</text>
<use href="#av-tsubaki" x="39.1" y="212.6"/>
<g class="n"><title>ツバキ</title>
<text transform="translate(52.2 247.4) skewX(-12)" font-size="7.2">ツバキ</text>
</g>
<path class="r" d="M91.7 208.6 V198.79 q0 -1.4 1.4 -1.4 h8.4 q1.4 0 1.4 1.4 V208.6 z"/>
<path class="bd" d="M84.15 184.29 h26.3 a1.7 1.7 0 0 1 1.7 1.7 v6.4 a1.7 1.7 0 0 1 -1.7 1.7 h-11.75 l-1.4 1.4 l-1.4 -1.4 h-11.75 a1.7 1.7 0 0 1 -1.7 -1.7 v-6.4 a1.7 1.7 0 0 1 1.7 -1.7 z"/>
<text class="v" x="97.3" y="192.09">92294</text>
<use href="#av-kanoe" x="81.4" y="212.6"/>
<g class="n"><title>カノエ</title>
<text transform="translate(94.5 247.4) skewX(-12)" font-size="7.2">カノエ</text>
</g>
<path class="r" d="M134 208.6 V194.06 q0 -1.4 1.4 -1.4 h8.4 q1.4 0 1.4 1.4 V208.6 z"/>
<path class="bd" d="M123.95 179.56 h31.3 a1.7 1.7 0 0 1 1.7 1.7 v6.4 a1.7 1.7 0 0 1 -1.7 1.7 h-14.25 l-1.4 1.4 l-1.4 -1.4 h-14.25 a1.7 1.7 0 0 1 -1.7 -1.7 v-6.4 a1.7 1.7 0 0 1 1.7 -1.7 z"/>
<text class="v" x="139.6" y="187.36">151109</text>
<use href="#av-eimi" x="123.7" y="212.6"/>
<g class="n"><title>エイミ</title>
<text transform="translate(136.8 247.4) skewX(-12)" font-size="7.2">エイミ</text>
</g>
<path class="r" d="M176.3 208.6 V94.2 q0 -1.4 1.4 -1.4 h8.4 q1.4 0 1.4 1.4 V208.6 z"/>
<path class="bd" d="M163.75 79.7 h36.3 a1.7 1.7 0 0 1 1.7 1.7 v6.4 a1.7 1.7 0 0 1 -1.7 1.7 h-16.75 l-1.4 1.4 l-1.4 -1.4 h-16.75 a1.7 1.7 0 0 1 -1.7 -1.7 v-6.4 a1.7 1.7 0 0 1 1.7 -1.7 z"/>
<text class="v" x="181.9" y="87.5">1394177</text>
<use href="#av-iori" x="166" y="212.6"/>
<g class="n"><title>イオリ</title>
<text transform="translate(179.1 247.4) skewX(-12)" font-size="7.2">イオリ</text>
</g>
<path class="b" d="M218.6 208.6 V186.92 q0 -1.4 1.4 -1.4 h8.4 q1.4 0 1.4 1.4 V208.6 z"/>
<path class="bd" d="M208.55 172.42 h31.3 a1.7 1.7 0 0 1 1.7 1.7 v6.4 a1.7 1.7 0 0 1 -1.7 1.7 h-14.25 l-1.4 1.4 l-1.4 -1.4 h-14.25 a1.7 1.7 0 0 1 -1.7 -1.7 v-6.4 a1.7 1.7 0 0 1 1.7 -1.7 z"/>
<text class="v" x="224.2" y="180.22">239973</text>
<use href="#av-shirokos" x="208.3" y="212.6"/>
<g class="n"><title>シロコ（水着）</title>
<text transform="translate(221.4 247.4) skewX(-12)" font-size="7.2">シロコ（水</text>
<text transform="translate(221.4 255.1) skewX(-12)" font-size="7.2">着）</text>
</g>
<path class="b" d="M260.9 208.6 V122.87 q0 -1.4 1.4 -1.4 h8.4 q1.4 0 1.4 1.4 V208.6 z"/>
<path class="bd" d="M248.35 108.37 h36.3 a1.7 1.7 0 0 1 1.7 1.7 v6.4 a1.7 1.7 0 0 1 -1.7 1.7 h-16.75 l-1.4 1.4 l-1.4 -1.4 h-16.75 a1.7 1.7 0 0 1 -1.7 -1.7 v-6.4 a1.7 1.7 0 0 1 1.7 -1.7 z"/>
<text class="v" x="266.5" y="116.17">1037328</text>
<use href="#av-hibiki" x="250.6" y="212.6"/>
<g class="n"><title>ヒビキ</title>
<text transform="translate(263.7 247.4) skewX(-12)" font-size="7.2">ヒビキ</text>
</g>
<line class="dv" x1="372" y1="65.9" x2="668.2" y2="65.9"/>
<line class="ax" x1="372" y1="209" x2="668.2" y2="209"/>
<path class="r" d="M407.9 208.6 V184.6 q0 -1.4 1.4 -1.4 h8.4 q1.4 0 1.4 1.4 V208.6 z"/>
<path class="bd" d="M397.85 170.1 h31.3 a1.7 1.7 0 0 1 1.7 1.7 v6.4 a1.7 1.7 0 0 1 -1.7 1.7 h-14.25 l-1.4 1.4 l-1.4 -1.4 h-14.25 a1.7 1.7 0 0 1 -1.7 -1.7 v-6.4 a1.7 1.7 0 0 1 1.7 -1.7 z"/>
<text class="v" x="413.5" y="177.9">268835</text>
<use href="#av-eimi" x="397.6" y="212.6"/>
<g class="n"><title>エイミ</title>
<text transform="translate(410.7 247.4) skewX(-12)" font-size="7.2">エイミ</text>
</g>
<path class="r" d="M450.2 208.6 V139.42 q0 -1.4 1.4 -1.4 h8.4 q1.4 0 1.4 1.4 V208.6 z"/>
<path class="bd" d="M440.15 124.92 h31.3 a1.7 1.7 0 0 1 1.7 1.7 v6.4 a1.7 1.7 0 0 1 -1.7 1.7 h-14.25 l-1.4 1.4 l-1.4 -1.4 h-14.25 a1.7 1.7 0 0 1 -1.7 -1.7 v-6.4 a1.7 1.7 0 0 1 1.7 -1.7 z"/>
<text class="v" x="455.8" y="132.72">831320</text>
<use href="#av-hanako" x="439.9" y="212.6"/>
<g class="n"><title>ハナコ（水着）</title>
<text transform="translate(453 247.4) skewX(-12)" font-size="7.2">ハナコ（水</text>
<text transform="translate(453 255.1) skewX(-12)" font-size="7.2">着）</text>
</g>
<path class="r" d="M492.5 208.6 V188.71 q0 -1.4 1.4 -1.4 h8.4 q1.4 0 1.4 1.4 V208.6 z"/>
<path class="bd" d="M482.45 174.21 h31.3 a1.7 1.7 0 0 1 1.7 1.7 v6.4 a1.7 1.7 0 0 1 -1.7 1.7 h-14.25 l-1.4 1.4 l-1.4 -1.4 h-14.25 a1.7 1.7 0 0 1 -1.7 -1.7 v-6.4 a1.7 1.7 0 0 1 1.7 -1.7 z"/>
<text class="v" x="498.1" y="182.01">217687</text>
<use href="#av-tsubaki" x="482.2" y="212.6"/>
<g class="n"><title>ツバキ</title>
<text transform="translate(495.3 247.4) skewX(-12)" font-size="7.2">ツバキ</text>
</g>
<path class="r" d="M534.8 208.6 V192.95 q0 -1.4 1.4 -1.4 h8.4 q1.4 0 1.4 1.4 V208.6 z"/>
<path class="bd" d="M524.75 178.45 h31.3 a1.7 1.7 0 0 1 1.7 1.7 v6.4 a1.7 1.7 0 0 1 -1.7 1.7 h-14.25 l-1.4 1.4 l-1.4 -1.4 h-14.25 a1.7 1.7 0 0 1 -1.7 -1.7 v-6.4 a1.7 1.7 0 0 1 1.7 -1.7 z"/>
<text class="v" x="540.4" y="186.25">164921</text>
<use href="#av-yuuka" x="524.5" y="212.6"/>
<g class="n"><title>ユウカ</title>
<text transform="translate(537.6 247.4) skewX(-12)" font-size="7.2">ユウカ</text>
</g>
<path class="b" d="M577.1 208.6 V203.55 q0 -1.4 1.4 -1.4 h8.4 q1.4 0 1.4 1.4 V208.6 z"/>
<path class="bd" d="M569.55 189.05 h26.3 a1.7 1.7 0 0 1 1.7 1.7 v6.4 a1.7 1.7 0 0 1 -1.7 1.7 h-11.75 l-1.4 1.4 l-1.4 -1.4 h-11.75 a1.7 1.7 0 0 1 -1.7 -1.7 v-6.4 a1.7 1.7 0 0 1 1.7 -1.7 z"/>
<text class="v" x="582.7" y="196.85">33017</text>
<use href="#av-reisa" x="566.8" y="212.6"/>
<g class="n"><title>レイサ（マジカル）</title>
<text transform="translate(579.9 247.4) skewX(-12)" font-size="7.2">レイサ（マ</text>
<text transform="translate(579.9 255.1) skewX(-12)" font-size="7.2">ジカル）</text>
</g>
<path class="b" d="M619.4 208.6 V173.12 q0 -1.4 1.4 -1.4 h8.4 q1.4 0 1.4 1.4 V208.6 z"/>
<path class="bd" d="M609.35 158.62 h31.3 a1.7 1.7 0 0 1 1.7 1.7 v6.4 a1.7 1.7 0 0 1 -1.7 1.7 h-14.25 l-1.4 1.4 l-1.4 -1.4 h-14.25 a1.7 1.7 0 0 1 -1.7 -1.7 v-6.4 a1.7 1.7 0 0 1 1.7 -1.7 z"/>
<text class="v" x="625" y="166.42">411829</text>
<use href="#av-hibiki" x="609.1" y="212.6"/>
<g class="n"><title>ヒビキ</title>
<text transform="translate(622.2 247.4) skewX(-12)" font-size="7.2">ヒビキ</text>
</g>
</g>
<g transform="translate(0 262.5)">
<path fill="#ffe2d9" d="M364.6 0 H682.5 V262.5 H318.8 z"/>
<rect x="120" y="0" width="189" height="56.2" fill="#fff"/>
<rect x="475.5" y="0" width="195.5" height="56.2" fill="#fff"/>
<use href="#shield" transform="translate(17.4 19.5) scale(0.96)"/>
<use href="#sword" x="372" y="18.5"/>
<g class="hd" font-size="26" text-anchor="middle" stroke-linejoin="round" transform="translate(79.4 42.7) scale(0.925 1)">
<use href="#t-win" y="1.8" fill="#a4acbf" stroke="#a4acbf" stroke-width="5.8" filter="url(#sh)"/>
<use href="#t-win" fill="#fff" stroke="#fff" stroke-width="6.2"/>
<use href="#t-win" fill="#27477e" stroke="#27477e" stroke-width="4.2"/>
<text fill="url(#gw)" stroke="url(#gw)" stroke-width="0.9">Win</text>
</g>
<g class="hd" font-size="25.4" text-anchor="middle" stroke-linejoin="round" transform="translate(436.2 41.3) scale(0.935 1)">
<use href="#t-lose" y="1.8" fill="#a8a0a6" stroke="#a8a0a6" stroke-width="5.8" filter="url(#sh)"/>
<use href="#t-lose" fill="#fff" stroke="#fff" stroke-width="6.2"/>
<use href="#t-lose" fill="#4a4a4e" stroke="#4a4a4e" stroke-width="4.2"/>
<text fill="url(#gl)" stroke="url(#gl)" stroke-width="0.9">Lose</text>
</g>
<use href="#vs" x="300" y="105"/>
<line class="dv" x1="14.2" y1="65.9" x2="310.4" y2="65.9"/>
<line class="ax" x1="14.2" y1="209" x2="310.4" y2="209"/>
<path class="r" d="M49.4 208.6 V198.03 q0 -1.4 1.4 -1.4 h8.4 q1.4 0 1.4 1.4 V208.6 z"/>
<path class="bd" d="M41.85 183.53 h26.3 a1.7 1.7 0 0 1 1.7 1.7 v6.4 a1.7 1.7 0 0 1 -1.7 1.7 h-11.75 l-1.4 1.4 l-1.4 -1.4 h-11.75 a1.7 1.7 0 0 1 -1.7 -1.7 v-6.4 a1.7 1.7 0 0 1 1.7 -1.7 z"/>
<text class="v" x="55" y="191.33">82793</text>
<use href="#av-tsubaki" x="39.1" y="212.6"/>
<g class="n"><title>ツバキ</title>
<text transform="translate(52.2 247.4) skewX(-12)" font-size="7.2">ツバキ</text>
</g>
<path class="r" d="M91.7 208.6 V197.19 q0 -1.4 1.4 -1.4 h8.4 q1.4 0 1.4 1.4 V208.6 z"/>
<path class="bd" d="M84.15 182.69 h26.3 a1.7 1.7 0 0 1 1.7 1.7 v6.4 a1.7 1.7 0 0 1 -1.7 1.7 h-11.75 l-1.4 1.4 l-1.4 -1.4 h-11.75 a1.7 1.7 0 0 1 -1.7 -1.7 v-6.4 a1.7 1.7 0 0 1 1.7 -1.7 z"/>
<text class="v" x="97.3" y="190.49">91321</text>
<use href="#av-kanoe" x="81.4" y="212.6"/>
<g class="n"><title>カノエ</title>
<text transform="translate(94.5 247.4) skewX(-12)" font-size="7.2">カノエ</text>
</g>
<path class="r" d="M134 208.6 V175.61 q0 -1.4 1.4 -1.4 h8.4 q1.4 0 1.4 1.4 V208.6 z"/>
<path class="bd" d="M123.95 161.11 h31.3 a1.7 1.7 0 0 1 1.7 1.7 v6.4 a1.7 1.7 0 0 1 -1.7 1.7 h-14.25 l-1.4 1.4 l-1.4 -1.4 h-14.25 a1.7 1.7 0 0 1 -1.7 -1.7 v-6.4 a1.7 1.7 0 0 1 1.7 -1.7 z"/>
<text class="v" x="139.6" y="168.91">310148</text>
<use href="#av-eimi" x="123.7" y="212.6"/>
<g class="n"><title>エイミ</title>
<text transform="translate(136.8 247.4) skewX(-12)" font-size="7.2">エイミ</text>
</g>
<path class="r" d="M176.3 208.6 V200.14 q0 -1.4 1.4 -1.4 h8.4 q1.4 0 1.4 1.4 V208.6 z"/>
<path class="bd" d="M168.75 185.64 h26.3 a1.7 1.7 0 0 1 1.7 1.7 v6.4 a1.7 1.7 0 0 1 -1.7 1.7 h-11.75 l-1.4 1.4 l-1.4 -1.4 h-11.75 a1.7 1.7 0 0 1 -1.7 -1.7 v-6.4 a1.7 1.7 0 0 1 1.7 -1.7 z"/>
<text class="v" x="181.9" y="193.44">61399</text>
<use href="#av-iori" x="166" y="212.6"/>
<g class="n"><title>イオリ</title>
<text transform="translate(179.1 247.4) skewX(-12)" font-size="7.2">イオリ</text>
</g>
<path class="b" d="M218.6 208.6 V129.42 q0 -1.4 1.4 -1.4 h8.4 q1.4 0 1.4 1.4 V208.6 z"/>
<path class="bd" d="M208.55 114.92 h31.3 a1.7 1.7 0 0 1 1.7 1.7 v6.4 a1.7 1.7 0 0 1 -1.7 1.7 h-14.25 l-1.4 1.4 l-1.4 -1.4 h-14.25 a1.7 1.7 0 0 1 -1.7 -1.7 v-6.4 a1.7 1.7 0 0 1 1.7 -1.7 z"/>
<text class="v" x="224.2" y="122.72">778332</text>
<use href="#av-shirokos" x="208.3" y="212.6"/>
<g class="n"><title>シロコ（水着）</title>
<text transform="translate(221.4 247.4) skewX(-12)" font-size="7.2">シロコ（水</text>
<text transform="translate(221.4 255.1) skewX(-12)" font-size="7.2">着）</text>
</g>
<path class="b" d="M260.9 208.6 V94.2 q0 -1.4 1.4 -1.4 h8.4 q1.4 0 1.4 1.4 V208.6 z"/>
<path class="bd" d="M248.35 79.7 h36.3 a1.7 1.7 0 0 1 1.7 1.7 v6.4 a1.7 1.7 0 0 1 -1.7 1.7 h-16.75 l-1.4 1.4 l-1.4 -1.4 h-16.75 a1.7 1.7 0 0 1 -1.7 -1.7 v-6.4 a1.7 1.7 0 0 1 1.7 -1.7 z"/>
<text class="v" x="266.5" y="87.5">1135401</text>
<use href="#av-hibiki" x="250.6" y="212.6"/>
<g class="n"><title>ヒビキ</title>
<text transform="translate(263.7 247.4) skewX(-12)" font-size="7.2">ヒビキ</text>
</g>
<line class="dv" x1="372" y1="65.9" x2="668.2" y2="65.9"/>
<line class="ax" x1="372" y1="209" x2="668.2" y2="209"/>
<path class="r" d="M407.9 208.6 V164.49 q0 -1.4 1.4 -1.4 h8.4 q1.4 0 1.4 1.4 V208.6 z"/>
<path class="bd" d="M397.85 149.99 h31.3 a1.7 1.7 0 0 1 1.7 1.7 v6.4 a1.7 1.7 0 0 1 -1.7 1.7 h-14.25 l-1.4 1.4 l-1.4 -1.4 h-14.25 a1.7 1.7 0 0 1 -1.7 -1.7 v-6.4 a1.7 1.7 0 0 1 1.7 -1.7 z"/>
<text class="v" x="413.5" y="157.79">422796</text>
<use href="#av-shun" x="397.6" y="212.6"/>
<g class="n"><title>シュン</title>
<text transform="translate(410.7 247.4) skewX(-12)" font-size="7.2">シュン</text>
</g>
<path class="r" d="M450.2 208.6 V184.08 q0 -1.4 1.4 -1.4 h8.4 q1.4 0 1.4 1.4 V208.6 z"/>
<path class="bd" d="M440.15 169.58 h31.3 a1.7 1.7 0 0 1 1.7 1.7 v6.4 a1.7 1.7 0 0 1 -1.7 1.7 h-14.25 l-1.4 1.4 l-1.4 -1.4 h-14.25 a1.7 1.7 0 0 1 -1.7 -1.7 v-6.4 a1.7 1.7 0 0 1 1.7 -1.7 z"/>
<text class="v" x="455.8" y="177.38">224204</text>
<use href="#av-tsubaki" x="439.9" y="212.6"/>
<g class="n"><title>ツバキ</title>
<text transform="translate(453 247.4) skewX(-12)" font-size="7.2">ツバキ</text>
</g>
<path class="r" d="M492.5 208.6 V149.13 q0 -1.4 1.4 -1.4 h8.4 q1.4 0 1.4 1.4 V208.6 z"/>
<path class="bd" d="M482.45 134.63 h31.3 a1.7 1.7 0 0 1 1.7 1.7 v6.4 a1.7 1.7 0 0 1 -1.7 1.7 h-14.25 l-1.4 1.4 l-1.4 -1.4 h-14.25 a1.7 1.7 0 0 1 -1.7 -1.7 v-6.4 a1.7 1.7 0 0 1 1.7 -1.7 z"/>
<text class="v" x="498.1" y="142.43">578559</text>
<use href="#av-hanako" x="482.2" y="212.6"/>
<g class="n"><title>ハナコ（水着）</title>
<text transform="translate(495.3 247.4) skewX(-12)" font-size="7.2">ハナコ（水</text>
<text transform="translate(495.3 255.1) skewX(-12)" font-size="7.2">着）</text>
</g>
<path class="r" d="M534.8 208.6 V192.68 q0 -1.4 1.4 -1.4 h8.4 q1.4 0 1.4 1.4 V208.6 z"/>
<path class="bd" d="M524.75 178.18 h31.3 a1.7 1.7 0 0 1 1.7 1.7 v6.4 a1.7 1.7 0 0 1 -1.7 1.7 h-14.25 l-1.4 1.4 l-1.4 -1.4 h-14.25 a1.7 1.7 0 0 1 -1.7 -1.7 v-6.4 a1.7 1.7 0 0 1 1.7 -1.7 z"/>
<text class="v" x="540.4" y="185.98">137104</text>
<use href="#av-eimi" x="524.5" y="212.6"/>
<g class="n"><title>エイミ</title>
<text transform="translate(537.6 247.4) skewX(-12)" font-size="7.2">エイミ</text>
</g>
<path class="b" d="M577.1 208.6 V201.54 q0 -1.4 1.4 -1.4 h8.4 q1.4 0 1.4 1.4 V208.6 z"/>
<path class="bd" d="M569.55 187.04 h26.3 a1.7 1.7 0 0 1 1.7 1.7 v6.4 a1.7 1.7 0 0 1 -1.7 1.7 h-11.75 l-1.4 1.4 l-1.4 -1.4 h-11.75 a1.7 1.7 0 0 1 -1.7 -1.7 v-6.4 a1.7 1.7 0 0 1 1.7 -1.7 z"/>
<text class="v" x="582.7" y="194.84">47252</text>
<use href="#av-reisa" x="566.8" y="212.6"/>
<g class="n"><title>レイサ（マジカル）</title>
<text transform="translate(579.9 247.4) skewX(-12)" font-size="7.2">レイサ（マ</text>
<text transform="translate(579.9 255.1) skewX(-12)" font-size="7.2">ジカル）</text>
</g>
<path class="b" d="M619.4 208.6 V134.28 q0 -1.4 1.4 -1.4 h8.4 q1.4 0 1.4 1.4 V208.6 z"/>
<path class="bd" d="M609.35 119.78 h31.3 a1.7 1.7 0 0 1 1.7 1.7 v6.4 a1.7 1.7 0 0 1 -1.7 1.7 h-14.25 l-1.4 1.4 l-1.4 -1.4 h-14.25 a1.7 1.7 0 0 1 -1.7 -1.7 v-6.4 a1.7 1.7 0 0 1 1.7 -1.7 z"/>
<text class="v" x="625" y="127.58">729135</text>
<use href="#av-hibiki" x="609.1" y="212.6"/>
<g class="n"><title>ヒビキ</title>
<text transform="translate(622.2 247.4) skewX(-12)" font-size="7.2">ヒビキ</text>
</g>
</g>
<g transform="translate(682.5 262.5)">
<path fill="#ffe2d9" d="M364.6 0 H682.5 V262.5 H318.8 z"/>
<rect x="120" y="0" width="189" height="56.2" fill="#fff"/>
<rect x="475.5" y="0" width="195.5" height="56.2" fill="#fff"/>
<use href="#shield" transform="translate(17.4 19.5) scale(0.96)"/>
<use href="#sword" x="372" y="18.5"/>
<g class="hd" font-size="26" text-anchor="middle" stroke-linejoin="round" transform="translate(79.4 42.7) scale(0.925 1)">
<use href="#t-win" y="1.8" fill="#a4acbf" stroke="#a4acbf" stroke-width="5.8" filter="url(#sh)"/>
<use href="#t-win" fill="#fff" stroke="#fff" stroke-width="6.2"/>
<use href="#t-win" fill="#27477e" stroke="#27477e" stroke-width="4.2"/>
<text fill="url(#gw)" stroke="url(#gw)" stroke-width="0.9">Win</text>
</g>
<g class="hd" font-size="25.4" text-anchor="middle" stroke-linejoin="round" transform="translate(436.2 41.3) scale(0.935 1)">
<use href="#t-lose" y="1.8" fill="#a8a0a6" stroke="#a8a0a6" stroke-width="5.8" filter="url(#sh)"/>
<use href="#t-lose" fill="#fff" stroke="#fff" stroke-width="6.2"/>
<use href="#t-lose" fill="#4a4a4e" stroke="#4a4a4e" stroke-width="4.2"/>
<text fill="url(#gl)" stroke="url(#gl)" stroke-width="0.9">Lose</text>
</g>
<use href="#vs" x="300" y="105"/>
<line class="dv" x1="14.2" y1="65.9" x2="310.4" y2="65.9"/>
<line class="ax" x1="14.2" y1="209" x2="310.4" y2="209"/>
<path class="r" d="M49.4 208.6 V200.98 q0 -1.4 1.4 -1.4 h8.4 q1.4 0 1.4 1.4 V208.6 z"/>
<path class="bd" d="M41.85 186.48 h26.3 a1.7 1.7 0 0 1 1.7 1.7 v6.4 a1.7 1.7 0 0 1 -1.7 1.7 h-11.75 l-1.4 1.4 l-1.4 -1.4 h-11.75 a1.7 1.7 0 0 1 -1.7 -1.7 v-6.4 a1.7 1.7 0 0 1 1.7 -1.7 z"/>
<text class="v" x="55" y="194.28">59351</text>
<use href="#av-tsubaki" x="39.1" y="212.6"/>
<g class="n"><title>ツバキ</title>
<text transform="translate(52.2 247.4) skewX(-12)" font-size="7.2">ツバキ</text>
</g>
<path class="r" d="M91.7 208.6 V195.44 q0 -1.4 1.4 -1.4 h8.4 q1.4 0 1.4 1.4 V208.6 z"/>
<path class="bd" d="M81.65 180.94 h31.3 a1.7 1.7 0 0 1 1.7 1.7 v6.4 a1.7 1.7 0 0 1 -1.7 1.7 h-14.25 l-1.4 1.4 l-1.4 -1.4 h-14.25 a1.7 1.7 0 0 1 -1.7 -1.7 v-6.4 a1.7 1.7 0 0 1 1.7 -1.7 z"/>
<text class="v" x="97.3" y="188.74">122275</text>
<use href="#av-kanoe" x="81.4" y="212.6"/>
<g class="n"><title>カノエ</title>
<text transform="translate(94.5 247.4) skewX(-12)" font-size="7.2">カノエ</text>
</g>
<path class="r" d="M134 208.6 V198.38 q0 -1.4 1.4 -1.4 h8.4 q1.4 0 1.4 1.4 V208.6 z"/>
<path class="bd" d="M126.45 183.88 h26.3 a1.7 1.7 0 0 1 1.7 1.7 v6.4 a1.7 1.7 0 0 1 -1.7 1.7 h-11.75 l-1.4 1.4 l-1.4 -1.4 h-11.75 a1.7 1.7 0 0 1 -1.7 -1.7 v-6.4 a1.7 1.7 0 0 1 1.7 -1.7 z"/>
<text class="v" x="139.6" y="191.68">88849</text>
<use href="#av-eimi" x="123.7" y="212.6"/>
<g class="n"><title>エイミ</title>
<text transform="translate(136.8 247.4) skewX(-12)" font-size="7.2">エイミ</text>
</g>
<path class="r" d="M176.3 208.6 V94.2 q0 -1.4 1.4 -1.4 h8.4 q1.4 0 1.4 1.4 V208.6 z"/>
<path class="bd" d="M163.75 79.7 h36.3 a1.7 1.7 0 0 1 1.7 1.7 v6.4 a1.7 1.7 0 0 1 -1.7 1.7 h-16.75 l-1.4 1.4 l-1.4 -1.4 h-16.75 a1.7 1.7 0 0 1 -1.7 -1.7 v-6.4 a1.7 1.7 0 0 1 1.7 -1.7 z"/>
<text class="v" x="181.9" y="87.5">1272623</text>
<use href="#av-iori" x="166" y="212.6"/>
<g class="n"><title>イオリ</title>
<text transform="translate(179.1 247.4) skewX(-12)" font-size="7.2">イオリ</text>
</g>
<path class="b" d="M218.6 208.6 V202.88 q0 -1.4 1.4 -1.4 h8.4 q1.4 0 1.4 1.4 V208.6 z"/>
<path class="bd" d="M211.05 188.38 h26.3 a1.7 1.7 0 0 1 1.7 1.7 v6.4 a1.7 1.7 0 0 1 -1.7 1.7 h-11.75 l-1.4 1.4 l-1.4 -1.4 h-11.75 a1.7 1.7 0 0 1 -1.7 -1.7 v-6.4 a1.7 1.7 0 0 1 1.7 -1.7 z"/>
<text class="v" x="224.2" y="196.18">37768</text>
<use href="#av-shirokos" x="208.3" y="212.6"/>
<g class="n"><title>シロコ（水着）</title>
<text transform="translate(221.4 247.4) skewX(-12)" font-size="7.2">シロコ（水</text>
<text transform="translate(221.4 255.1) skewX(-12)" font-size="7.2">着）</text>
</g>
<path class="b" d="M260.9 208.6 V159.17 q0 -1.4 1.4 -1.4 h8.4 q1.4 0 1.4 1.4 V208.6 z"/>
<path class="bd" d="M250.85 144.67 h31.3 a1.7 1.7 0 0 1 1.7 1.7 v6.4 a1.7 1.7 0 0 1 -1.7 1.7 h-14.25 l-1.4 1.4 l-1.4 -1.4 h-14.25 a1.7 1.7 0 0 1 -1.7 -1.7 v-6.4 a1.7 1.7 0 0 1 1.7 -1.7 z"/>
<text class="v" x="266.5" y="152.47">534440</text>
<use href="#av-hibiki" x="250.6" y="212.6"/>
<g class="n"><title>ヒビキ</title>
<text transform="translate(263.7 247.4) skewX(-12)" font-size="7.2">ヒビキ</text>
</g>
<line class="dv" x1="372" y1="65.9" x2="668.2" y2="65.9"/>
<line class="ax" x1="372" y1="209" x2="668.2" y2="209"/>
<path class="r" d="M407.9 208.6 V147.04 q0 -1.4 1.4 -1.4 h8.4 q1.4 0 1.4 1.4 V208.6 z"/>
<path class="bd" d="M397.85 132.54 h31.3 a1.7 1.7 0 0 1 1.7 1.7 v6.4 a1.7 1.7 0 0 1 -1.7 1.7 h-14.25 l-1.4 1.4 l-1.4 -1.4 h-14.25 a1.7 1.7 0 0 1 -1.7 -1.7 v-6.4 a1.7 1.7 0 0 1 1.7 -1.7 z"/>
<text class="v" x="413.5" y="140.34">672190</text>
<use href="#av-shirokor" x="397.6" y="212.6"/>
<g class="n"><title>シロコ（ライディング）</title>
<text transform="translate(410.7 246.9) skewX(-12)" font-size="6.4">シロコ（ライ</text>
<text transform="translate(410.7 253.6) skewX(-12)" font-size="6.4">ディング）</text>
</g>
<path class="r" d="M450.2 208.6 V202.56 q0 -1.4 1.4 -1.4 h8.4 q1.4 0 1.4 1.4 V208.6 z"/>
<path class="bd" d="M442.65 188.06 h26.3 a1.7 1.7 0 0 1 1.7 1.7 v6.4 a1.7 1.7 0 0 1 -1.7 1.7 h-11.75 l-1.4 1.4 l-1.4 -1.4 h-11.75 a1.7 1.7 0 0 1 -1.7 -1.7 v-6.4 a1.7 1.7 0 0 1 1.7 -1.7 z"/>
<text class="v" x="455.8" y="195.86">41334</text>
<use href="#av-atsuko" x="439.9" y="212.6"/>
<g class="n"><title>アツコ</title>
<text transform="translate(453 247.4) skewX(-12)" font-size="7.2">アツコ</text>
</g>
<path class="r" d="M492.5 208.6 V201.41 q0 -1.4 1.4 -1.4 h8.4 q1.4 0 1.4 1.4 V208.6 z"/>
<path class="bd" d="M484.95 186.91 h26.3 a1.7 1.7 0 0 1 1.7 1.7 v6.4 a1.7 1.7 0 0 1 -1.7 1.7 h-11.75 l-1.4 1.4 l-1.4 -1.4 h-11.75 a1.7 1.7 0 0 1 -1.7 -1.7 v-6.4 a1.7 1.7 0 0 1 1.7 -1.7 z"/>
<text class="v" x="498.1" y="194.71">54382</text>
<use href="#av-miyako" x="482.2" y="212.6"/>
<g class="n"><title>ミヤコ</title>
<text transform="translate(495.3 247.4) skewX(-12)" font-size="7.2">ミヤコ</text>
</g>
<path class="r" d="M534.8 208.6 V192.36 q0 -1.4 1.4 -1.4 h8.4 q1.4 0 1.4 1.4 V208.6 z"/>
<path class="bd" d="M524.75 177.86 h31.3 a1.7 1.7 0 0 1 1.7 1.7 v6.4 a1.7 1.7 0 0 1 -1.7 1.7 h-14.25 l-1.4 1.4 l-1.4 -1.4 h-14.25 a1.7 1.7 0 0 1 -1.7 -1.7 v-6.4 a1.7 1.7 0 0 1 1.7 -1.7 z"/>
<text class="v" x="540.4" y="185.66">157246</text>
<use href="#av-neru" x="524.5" y="212.6"/>
<g class="n"><title>ネル（バニーガール）</title>
<text transform="translate(537.6 246.9) skewX(-12)" font-size="6.4">ネル（バニー</text>
<text transform="translate(537.6 253.6) skewX(-12)" font-size="6.4">ガール）</text>
</g>
<path class="b" d="M577.1 208.6 V147.52 q0 -1.4 1.4 -1.4 h8.4 q1.4 0 1.4 1.4 V208.6 z"/>
<path class="bd" d="M567.05 133.02 h31.3 a1.7 1.7 0 0 1 1.7 1.7 v6.4 a1.7 1.7 0 0 1 -1.7 1.7 h-14.25 l-1.4 1.4 l-1.4 -1.4 h-14.25 a1.7 1.7 0 0 1 -1.7 -1.7 v-6.4 a1.7 1.7 0 0 1 1.7 -1.7 z"/>
<text class="v" x="582.7" y="140.82">666754</text>
<use href="#av-hibiki" x="566.8" y="212.6"/>
<g class="n"><title>ヒビキ</title>
<text transform="translate(579.9 247.4) skewX(-12)" font-size="7.2">ヒビキ</text>
</g>
<path class="b" d="M619.4 208.6 V166.35 q0 -1.4 1.4 -1.4 h8.4 q1.4 0 1.4 1.4 V208.6 z"/>
<path class="bd" d="M609.35 151.85 h31.3 a1.7 1.7 0 0 1 1.7 1.7 v6.4 a1.7 1.7 0 0 1 -1.7 1.7 h-14.25 l-1.4 1.4 l-1.4 -1.4 h-14.25 a1.7 1.7 0 0 1 -1.7 -1.7 v-6.4 a1.7 1.7 0 0 1 1.7 -1.7 z"/>
<text class="v" x="625" y="159.65">452750</text>
<use href="#av-saki" x="609.1" y="212.6"/>
<g class="n"><title>サキ</title>
<text transform="translate(622.2 247.4) skewX(-12)" font-size="7.2">サキ</text>
</g>
</g>
<g transform="translate(0 525)">
<path fill="#ffe2d9" d="M364.6 0 H682.5 V262.5 H318.8 z"/>
<rect x="120" y="0" width="189" height="56.2" fill="#fff"/>
<rect x="475.5" y="0" width="195.5" height="56.2" fill="#fff"/>
<use href="#shield" transform="translate(17.4 19.5) scale(0.96)"/>
<use href="#sword" x="372" y="18.5"/>
<g class="hd" font-size="26" text-anchor="middle" stroke-linejoin="round" transform="translate(79.4 42.7) scale(0.925 1)">
<use href="#t-win" y="1.8" fill="#a4acbf" stroke="#a4acbf" stroke-width="5.8" filter="url(#sh)"/>
<use href="#t-win" fill="#fff" stroke="#fff" stroke-width="6.2"/>
<use href="#t-win" fill="#27477e" stroke="#27477e" stroke-width="4.2"/>
<text fill="url(#gw)" stroke="url(#gw)" stroke-width="0.9">Win</text>
</g>
<g class="hd" font-size="25.4" text-anchor="middle" stroke-linejoin="round" transform="translate(436.2 41.3) scale(0.935 1)">
<use href="#t-lose" y="1.8" fill="#a8a0a6" stroke="#a8a0a6" stroke-width="5.8" filter="url(#sh)"/>
<use href="#t-lose" fill="#fff" stroke="#fff" stroke-width="6.2"/>
<use href="#t-lose" fill="#4a4a4e" stroke="#4a4a4e" stroke-width="4.2"/>
<text fill="url(#gl)" stroke="url(#gl)" stroke-width="0.9">Lose</text>
</g>
<use href="#vs" x="300" y="105"/>
<line class="dv" x1="14.2" y1="65.9" x2="310.4" y2="65.9"/>
<line class="ax" x1="14.2" y1="209" x2="310.4" y2="209"/>
<path class="r" d="M49.4 208.6 V199.34 q0 -1.4 1.4 -1.4 h8.4 q1.4 0 1.4 1.4 V208.6 z"/>
<path class="bd" d="M41.85 184.84 h26.3 a1.7 1.7 0 0 1 1.7 1.7 v6.4 a1.7 1.7 0 0 1 -1.7 1.7 h-11.75 l-1.4 1.4 l-1.4 -1.4 h-11.75 a1.7 1.7 0 0 1 -1.7 -1.7 v-6.4 a1.7 1.7 0 0 1 1.7 -1.7 z"/>
<text class="v" x="55" y="192.64">86676</text>
<use href="#av-tsubaki" x="39.1" y="212.6"/>
<g class="n"><title>ツバキ</title>
<text transform="translate(52.2 247.4) skewX(-12)" font-size="7.2">ツバキ</text>
</g>
<path class="r" d="M91.7 208.6 V191.79 q0 -1.4 1.4 -1.4 h8.4 q1.4 0 1.4 1.4 V208.6 z"/>
<path class="bd" d="M81.65 177.29 h31.3 a1.7 1.7 0 0 1 1.7 1.7 v6.4 a1.7 1.7 0 0 1 -1.7 1.7 h-14.25 l-1.4 1.4 l-1.4 -1.4 h-14.25 a1.7 1.7 0 0 1 -1.7 -1.7 v-6.4 a1.7 1.7 0 0 1 1.7 -1.7 z"/>
<text class="v" x="97.3" y="185.09">181943</text>
<use href="#av-kanoe" x="81.4" y="212.6"/>
<g class="n"><title>カノエ</title>
<text transform="translate(94.5 247.4) skewX(-12)" font-size="7.2">カノエ</text>
</g>
<path class="r" d="M134 208.6 V161.27 q0 -1.4 1.4 -1.4 h8.4 q1.4 0 1.4 1.4 V208.6 z"/>
<path class="bd" d="M123.95 146.77 h31.3 a1.7 1.7 0 0 1 1.7 1.7 v6.4 a1.7 1.7 0 0 1 -1.7 1.7 h-14.25 l-1.4 1.4 l-1.4 -1.4 h-14.25 a1.7 1.7 0 0 1 -1.7 -1.7 v-6.4 a1.7 1.7 0 0 1 1.7 -1.7 z"/>
<text class="v" x="139.6" y="154.57">567314</text>
<use href="#av-eimi" x="123.7" y="212.6"/>
<g class="n"><title>エイミ</title>
<text transform="translate(136.8 247.4) skewX(-12)" font-size="7.2">エイミ</text>
</g>
<path class="r" d="M176.3 208.6 V94.2 q0 -1.4 1.4 -1.4 h8.4 q1.4 0 1.4 1.4 V208.6 z"/>
<path class="bd" d="M163.75 79.7 h36.3 a1.7 1.7 0 0 1 1.7 1.7 v6.4 a1.7 1.7 0 0 1 -1.7 1.7 h-16.75 l-1.4 1.4 l-1.4 -1.4 h-16.75 a1.7 1.7 0 0 1 -1.7 -1.7 v-6.4 a1.7 1.7 0 0 1 1.7 -1.7 z"/>
<text class="v" x="181.9" y="87.5">1414106</text>
<use href="#av-iori" x="166" y="212.6"/>
<g class="n"><title>イオリ</title>
<text transform="translate(179.1 247.4) skewX(-12)" font-size="7.2">イオリ</text>
</g>
<path class="b" d="M218.6 208.6 V178.05 q0 -1.4 1.4 -1.4 h8.4 q1.4 0 1.4 1.4 V208.6 z"/>
<path class="bd" d="M208.55 163.55 h31.3 a1.7 1.7 0 0 1 1.7 1.7 v6.4 a1.7 1.7 0 0 1 -1.7 1.7 h-14.25 l-1.4 1.4 l-1.4 -1.4 h-14.25 a1.7 1.7 0 0 1 -1.7 -1.7 v-6.4 a1.7 1.7 0 0 1 1.7 -1.7 z"/>
<text class="v" x="224.2" y="171.35">355414</text>
<use href="#av-shirokos" x="208.3" y="212.6"/>
<g class="n"><title>シロコ（水着）</title>
<text transform="translate(221.4 247.4) skewX(-12)" font-size="7.2">シロコ（水</text>
<text transform="translate(221.4 255.1) skewX(-12)" font-size="7.2">着）</text>
</g>
<path class="b" d="M260.9 208.6 V114.61 q0 -1.4 1.4 -1.4 h8.4 q1.4 0 1.4 1.4 V208.6 z"/>
<path class="bd" d="M248.35 100.11 h36.3 a1.7 1.7 0 0 1 1.7 1.7 v6.4 a1.7 1.7 0 0 1 -1.7 1.7 h-16.75 l-1.4 1.4 l-1.4 -1.4 h-16.75 a1.7 1.7 0 0 1 -1.7 -1.7 v-6.4 a1.7 1.7 0 0 1 1.7 -1.7 z"/>
<text class="v" x="266.5" y="107.91">1156450</text>
<use href="#av-hibiki" x="250.6" y="212.6"/>
<g class="n"><title>ヒビキ</title>
<text transform="translate(263.7 247.4) skewX(-12)" font-size="7.2">ヒビキ</text>
</g>
<line class="dv" x1="372" y1="65.9" x2="668.2" y2="65.9"/>
<line class="ax" x1="372" y1="209" x2="668.2" y2="209"/>
<path class="r" d="M407.9 208.6 V122.44 q0 -1.4 1.4 -1.4 h8.4 q1.4 0 1.4 1.4 V208.6 z"/>
<path class="bd" d="M395.35 107.94 h36.3 a1.7 1.7 0 0 1 1.7 1.7 v6.4 a1.7 1.7 0 0 1 -1.7 1.7 h-16.75 l-1.4 1.4 l-1.4 -1.4 h-16.75 a1.7 1.7 0 0 1 -1.7 -1.7 v-6.4 a1.7 1.7 0 0 1 1.7 -1.7 z"/>
<text class="v" x="413.5" y="115.74">1057555</text>
<use href="#av-hanako" x="397.6" y="212.6"/>
<g class="n"><title>ハナコ（水着）</title>
<text transform="translate(410.7 247.4) skewX(-12)" font-size="7.2">ハナコ（水</text>
<text transform="translate(410.7 255.1) skewX(-12)" font-size="7.2">着）</text>
</g>
<path class="r" d="M450.2 208.6 V173.99 q0 -1.4 1.4 -1.4 h8.4 q1.4 0 1.4 1.4 V208.6 z"/>
<path class="bd" d="M440.15 159.49 h31.3 a1.7 1.7 0 0 1 1.7 1.7 v6.4 a1.7 1.7 0 0 1 -1.7 1.7 h-14.25 l-1.4 1.4 l-1.4 -1.4 h-14.25 a1.7 1.7 0 0 1 -1.7 -1.7 v-6.4 a1.7 1.7 0 0 1 1.7 -1.7 z"/>
<text class="v" x="455.8" y="167.29">406706</text>
<use href="#av-eimi" x="439.9" y="212.6"/>
<g class="n"><title>エイミ</title>
<text transform="translate(453 247.4) skewX(-12)" font-size="7.2">エイミ</text>
</g>
<path class="r" d="M492.5 208.6 V203.16 q0 -1.4 1.4 -1.4 h8.4 q1.4 0 1.4 1.4 V208.6 z"/>
<path class="bd" d="M484.95 188.66 h26.3 a1.7 1.7 0 0 1 1.7 1.7 v6.4 a1.7 1.7 0 0 1 -1.7 1.7 h-11.75 l-1.4 1.4 l-1.4 -1.4 h-11.75 a1.7 1.7 0 0 1 -1.7 -1.7 v-6.4 a1.7 1.7 0 0 1 1.7 -1.7 z"/>
<text class="v" x="498.1" y="196.46">38444</text>
<use href="#av-shun" x="482.2" y="212.6"/>
<g class="n"><title>シュン</title>
<text transform="translate(495.3 247.4) skewX(-12)" font-size="7.2">シュン</text>
</g>
<path class="r" d="M534.8 208.6 V191.12 q0 -1.4 1.4 -1.4 h8.4 q1.4 0 1.4 1.4 V208.6 z"/>
<path class="bd" d="M524.75 176.62 h31.3 a1.7 1.7 0 0 1 1.7 1.7 v6.4 a1.7 1.7 0 0 1 -1.7 1.7 h-14.25 l-1.4 1.4 l-1.4 -1.4 h-14.25 a1.7 1.7 0 0 1 -1.7 -1.7 v-6.4 a1.7 1.7 0 0 1 1.7 -1.7 z"/>
<text class="v" x="540.4" y="184.42">190356</text>
<use href="#av-tsubaki" x="524.5" y="212.6"/>
<g class="n"><title>ツバキ</title>
<text transform="translate(537.6 247.4) skewX(-12)" font-size="7.2">ツバキ</text>
</g>
<path class="b" d="M577.1 208.6 V202.05 q0 -1.4 1.4 -1.4 h8.4 q1.4 0 1.4 1.4 V208.6 z"/>
<path class="bd" d="M569.55 187.55 h26.3 a1.7 1.7 0 0 1 1.7 1.7 v6.4 a1.7 1.7 0 0 1 -1.7 1.7 h-11.75 l-1.4 1.4 l-1.4 -1.4 h-11.75 a1.7 1.7 0 0 1 -1.7 -1.7 v-6.4 a1.7 1.7 0 0 1 1.7 -1.7 z"/>
<text class="v" x="582.7" y="195.35">52372</text>
<use href="#av-reisa" x="566.8" y="212.6"/>
<g class="n"><title>レイサ（マジカル）</title>
<text transform="translate(579.9 247.4) skewX(-12)" font-size="7.2">レイサ（マ</text>
<text transform="translate(579.9 255.1) skewX(-12)" font-size="7.2">ジカル）</text>
</g>
<path class="b" d="M619.4 208.6 V162.05 q0 -1.4 1.4 -1.4 h8.4 q1.4 0 1.4 1.4 V208.6 z"/>
<path class="bd" d="M609.35 147.55 h31.3 a1.7 1.7 0 0 1 1.7 1.7 v6.4 a1.7 1.7 0 0 1 -1.7 1.7 h-14.25 l-1.4 1.4 l-1.4 -1.4 h-14.25 a1.7 1.7 0 0 1 -1.7 -1.7 v-6.4 a1.7 1.7 0 0 1 1.7 -1.7 z"/>
<text class="v" x="625" y="155.35">557431</text>
<use href="#av-hibiki" x="609.1" y="212.6"/>
<g class="n"><title>ヒビキ</title>
<text transform="translate(622.2 247.4) skewX(-12)" font-size="7.2">ヒビキ</text>
</g>
</g>
<g transform="translate(682.5 525)">
<path fill="#ffe2d9" d="M364.6 0 H682.5 V262.5 H318.8 z"/>
<rect x="120" y="0" width="189" height="56.2" fill="#fff"/>
<rect x="475.5" y="0" width="195.5" height="56.2" fill="#fff"/>
<use href="#shield" transform="translate(17.4 19.5) scale(0.96)"/>
<use href="#sword" x="372" y="18.5"/>
<g class="hd" font-size="26" text-anchor="middle" stroke-linejoin="round" transform="translate(79.4 42.7) scale(0.925 1)">
<use href="#t-win" y="1.8" fill="#a4acbf" stroke="#a4acbf" stroke-width="5.8" filter="url(#sh)"/>
<use href="#t-win" fill="#fff" stroke="#fff" stroke-width="6.2"/>
<use href="#t-win" fill="#27477e" stroke="#27477e" stroke-width="4.2"/>
<text fill="url(#gw)" stroke="url(#gw)" stroke-width="0.9">Win</text>
</g>
<g class="hd" font-size="25.4" text-anchor="middle" stroke-linejoin="round" transform="translate(436.2 41.3) scale(0.935 1)">
<use href="#t-lose" y="1.8" fill="#a8a0a6" stroke="#a8a0a6" stroke-width="5.8" filter="url(#sh)"/>
<use href="#t-lose" fill="#fff" stroke="#fff" stroke-width="6.2"/>
<use href="#t-lose" fill="#4a4a4e" stroke="#4a4a4e" stroke-width="4.2"/>
<text fill="url(#gl)" stroke="url(#gl)" stroke-width="0.9">Lose</text>
</g>
<use href="#vs" x="300" y="105"/>
<line class="dv" x1="14.2" y1="65.9" x2="310.4" y2="65.9"/>
<line class="ax" x1="14.2" y1="209" x2="310.4" y2="209"/>
<path class="r" d="M49.4 208.6 V202.05 q0 -1.4 1.4 -1.4 h8.4 q1.4 0 1.4 1.4 V208.6 z"/>
<path class="bd" d="M41.85 187.55 h26.3 a1.7 1.7 0 0 1 1.7 1.7 v6.4 a1.7 1.7 0 0 1 -1.7 1.7 h-11.75 l-1.4 1.4 l-1.4 -1.4 h-11.75 a1.7 1.7 0 0 1 -1.7 -1.7 v-6.4 a1.7 1.7 0 0 1 1.7 -1.7 z"/>
<text class="v" x="55" y="195.35">37219</text>
<use href="#av-tsubaki" x="39.1" y="212.6"/>
<g class="n"><title>ツバキ</title>
<text transform="translate(52.2 247.4) skewX(-12)" font-size="7.2">ツバキ</text>
</g>
<path class="r" d="M91.7 208.6 V195.2 q0 -1.4 1.4 -1.4 h8.4 q1.4 0 1.4 1.4 V208.6 z"/>
<path class="bd" d="M84.15 180.7 h26.3 a1.7 1.7 0 0 1 1.7 1.7 v6.4 a1.7 1.7 0 0 1 -1.7 1.7 h-11.75 l-1.4 1.4 l-1.4 -1.4 h-11.75 a1.7 1.7 0 0 1 -1.7 -1.7 v-6.4 a1.7 1.7 0 0 1 1.7 -1.7 z"/>
<text class="v" x="97.3" y="188.5">98689</text>
<use href="#av-kanoe" x="81.4" y="212.6"/>
<g class="n"><title>カノエ</title>
<text transform="translate(94.5 247.4) skewX(-12)" font-size="7.2">カノエ</text>
</g>
<path class="r" d="M134 208.6 V185.41 q0 -1.4 1.4 -1.4 h8.4 q1.4 0 1.4 1.4 V208.6 z"/>
<path class="bd" d="M123.95 170.91 h31.3 a1.7 1.7 0 0 1 1.7 1.7 v6.4 a1.7 1.7 0 0 1 -1.7 1.7 h-14.25 l-1.4 1.4 l-1.4 -1.4 h-14.25 a1.7 1.7 0 0 1 -1.7 -1.7 v-6.4 a1.7 1.7 0 0 1 1.7 -1.7 z"/>
<text class="v" x="139.6" y="178.71">186561</text>
<use href="#av-eimi" x="123.7" y="212.6"/>
<g class="n"><title>エイミ</title>
<text transform="translate(136.8 247.4) skewX(-12)" font-size="7.2">エイミ</text>
</g>
<path class="r" d="M176.3 208.6 V155.83 q0 -1.4 1.4 -1.4 h8.4 q1.4 0 1.4 1.4 V208.6 z"/>
<path class="bd" d="M166.25 141.33 h31.3 a1.7 1.7 0 0 1 1.7 1.7 v6.4 a1.7 1.7 0 0 1 -1.7 1.7 h-14.25 l-1.4 1.4 l-1.4 -1.4 h-14.25 a1.7 1.7 0 0 1 -1.7 -1.7 v-6.4 a1.7 1.7 0 0 1 1.7 -1.7 z"/>
<text class="v" x="181.9" y="149.13">451934</text>
<use href="#av-iori" x="166" y="212.6"/>
<g class="n"><title>イオリ</title>
<text transform="translate(179.1 247.4) skewX(-12)" font-size="7.2">イオリ</text>
</g>
<path class="b" d="M218.6 208.6 V138.42 q0 -1.4 1.4 -1.4 h8.4 q1.4 0 1.4 1.4 V208.6 z"/>
<path class="bd" d="M208.55 123.92 h31.3 a1.7 1.7 0 0 1 1.7 1.7 v6.4 a1.7 1.7 0 0 1 -1.7 1.7 h-14.25 l-1.4 1.4 l-1.4 -1.4 h-14.25 a1.7 1.7 0 0 1 -1.7 -1.7 v-6.4 a1.7 1.7 0 0 1 1.7 -1.7 z"/>
<text class="v" x="224.2" y="131.72">608176</text>
<use href="#av-shirokos" x="208.3" y="212.6"/>
<g class="n"><title>シロコ（水着）</title>
<text transform="translate(221.4 247.4) skewX(-12)" font-size="7.2">シロコ（水</text>
<text transform="translate(221.4 255.1) skewX(-12)" font-size="7.2">着）</text>
</g>
<path class="b" d="M260.9 208.6 V117.6 q0 -1.4 1.4 -1.4 h8.4 q1.4 0 1.4 1.4 V208.6 z"/>
<path class="bd" d="M250.85 103.1 h31.3 a1.7 1.7 0 0 1 1.7 1.7 v6.4 a1.7 1.7 0 0 1 -1.7 1.7 h-14.25 l-1.4 1.4 l-1.4 -1.4 h-14.25 a1.7 1.7 0 0 1 -1.7 -1.7 v-6.4 a1.7 1.7 0 0 1 1.7 -1.7 z"/>
<text class="v" x="266.5" y="110.9">794945</text>
<use href="#av-hibiki" x="250.6" y="212.6"/>
<g class="n"><title>ヒビキ</title>
<text transform="translate(263.7 247.4) skewX(-12)" font-size="7.2">ヒビキ</text>
</g>
<line class="dv" x1="372" y1="65.9" x2="668.2" y2="65.9"/>
<line class="ax" x1="372" y1="209" x2="668.2" y2="209"/>
<path class="r" d="M407.9 208.6 V94.2 q0 -1.4 1.4 -1.4 h8.4 q1.4 0 1.4 1.4 V208.6 z"/>
<path class="bd" d="M395.35 79.7 h36.3 a1.7 1.7 0 0 1 1.7 1.7 v6.4 a1.7 1.7 0 0 1 -1.7 1.7 h-16.75 l-1.4 1.4 l-1.4 -1.4 h-16.75 a1.7 1.7 0 0 1 -1.7 -1.7 v-6.4 a1.7 1.7 0 0 1 1.7 -1.7 z"/>
<text class="v" x="413.5" y="87.5">1004909</text>
<use href="#av-shirokor" x="397.6" y="212.6"/>
<g class="n"><title>シロコ（ライディング）</title>
<text transform="translate(410.7 246.9) skewX(-12)" font-size="6.4">シロコ（ライ</text>
<text transform="translate(410.7 253.6) skewX(-12)" font-size="6.4">ディング）</text>
</g>
<path class="r" d="M450.2 208.6 V188.44 q0 -1.4 1.4 -1.4 h8.4 q1.4 0 1.4 1.4 V208.6 z"/>
<path class="bd" d="M440.15 173.94 h31.3 a1.7 1.7 0 0 1 1.7 1.7 v6.4 a1.7 1.7 0 0 1 -1.7 1.7 h-14.25 l-1.4 1.4 l-1.4 -1.4 h-14.25 a1.7 1.7 0 0 1 -1.7 -1.7 v-6.4 a1.7 1.7 0 0 1 1.7 -1.7 z"/>
<text class="v" x="455.8" y="181.74">159360</text>
<use href="#av-atsuko" x="439.9" y="212.6"/>
<g class="n"><title>アツコ</title>
<text transform="translate(453 247.4) skewX(-12)" font-size="7.2">アツコ</text>
</g>
<path class="r" d="M492.5 208.6 V178.75 q0 -1.4 1.4 -1.4 h8.4 q1.4 0 1.4 1.4 V208.6 z"/>
<path class="bd" d="M482.45 164.25 h31.3 a1.7 1.7 0 0 1 1.7 1.7 v6.4 a1.7 1.7 0 0 1 -1.7 1.7 h-14.25 l-1.4 1.4 l-1.4 -1.4 h-14.25 a1.7 1.7 0 0 1 -1.7 -1.7 v-6.4 a1.7 1.7 0 0 1 1.7 -1.7 z"/>
<text class="v" x="498.1" y="172.05">246257</text>
<use href="#av-marina" x="482.2" y="212.6"/>
<g class="n"><title>マリナ</title>
<text transform="translate(495.3 247.4) skewX(-12)" font-size="7.2">マリナ</text>
</g>
<path class="r" d="M534.8 208.6 V188.39 q0 -1.4 1.4 -1.4 h8.4 q1.4 0 1.4 1.4 V208.6 z"/>
<path class="bd" d="M524.75 173.89 h31.3 a1.7 1.7 0 0 1 1.7 1.7 v6.4 a1.7 1.7 0 0 1 -1.7 1.7 h-14.25 l-1.4 1.4 l-1.4 -1.4 h-14.25 a1.7 1.7 0 0 1 -1.7 -1.7 v-6.4 a1.7 1.7 0 0 1 1.7 -1.7 z"/>
<text class="v" x="540.4" y="181.69">159811</text>
<use href="#av-neru" x="524.5" y="212.6"/>
<g class="n"><title>ネル（バニーガール）</title>
<text transform="translate(537.6 246.9) skewX(-12)" font-size="6.4">ネル（バニー</text>
<text transform="translate(537.6 253.6) skewX(-12)" font-size="6.4">ガール）</text>
</g>
<path class="b" d="M577.1 208.6 V166.51 q0 -1.4 1.4 -1.4 h8.4 q1.4 0 1.4 1.4 V208.6 z"/>
<path class="bd" d="M567.05 152.01 h31.3 a1.7 1.7 0 0 1 1.7 1.7 v6.4 a1.7 1.7 0 0 1 -1.7 1.7 h-14.25 l-1.4 1.4 l-1.4 -1.4 h-14.25 a1.7 1.7 0 0 1 -1.7 -1.7 v-6.4 a1.7 1.7 0 0 1 1.7 -1.7 z"/>
<text class="v" x="582.7" y="159.81">356115</text>
<use href="#av-shirokos" x="566.8" y="212.6"/>
<g class="n"><title>シロコ（水着）</title>
<text transform="translate(579.9 247.4) skewX(-12)" font-size="7.2">シロコ（水</text>
<text transform="translate(579.9 255.1) skewX(-12)" font-size="7.2">着）</text>
</g>
<path class="b" d="M619.4 208.6 V138.3 q0 -1.4 1.4 -1.4 h8.4 q1.4 0 1.4 1.4 V208.6 z"/>
<path class="bd" d="M609.35 123.8 h31.3 a1.7 1.7 0 0 1 1.7 1.7 v6.4 a1.7 1.7 0 0 1 -1.7 1.7 h-14.25 l-1.4 1.4 l-1.4 -1.4 h-14.25 a1.7 1.7 0 0 1 -1.7 -1.7 v-6.4 a1.7 1.7 0 0 1 1.7 -1.7 z"/>
<text class="v" x="625" y="131.6">609260</text>
<use href="#av-saki" x="609.1" y="212.6"/>
<g class="n"><title>サキ</title>
<text transform="translate(622.2 247.4) skewX(-12)" font-size="7.2">サキ</text>
</g>
</g>
<g transform="translate(0 787.5)">
<path fill="#ffe2d9" d="M364.6 0 H682.5 V262.5 H318.8 z"/>
<rect x="120" y="0" width="189" height="56.2" fill="#fff"/>
<rect x="475.5" y="0" width="195.5" height="56.2" fill="#fff"/>
<use href="#shield" transform="translate(17.4 19.5) scale(0.96)"/>
<use href="#sword" x="372" y="18.5"/>
<g class="hd" font-size="25.4" text-anchor="middle" stroke-linejoin="round" transform="translate(79.4 41.3) scale(0.935 1)">
<use href="#t-lose" y="1.8" fill="#a8a0a6" stroke="#a8a0a6" stroke-width="5.8" filter="url(#sh)"/>
<use href="#t-lose" fill="#fff" stroke="#fff" stroke-width="6.2"/>
<use href="#t-lose" fill="#4a4a4e" stroke="#4a4a4e" stroke-width="4.2"/>
<text fill="url(#gl)" stroke="url(#gl)" stroke-width="0.9">Lose</text>
</g>
<g class="hd" font-size="26" text-anchor="middle" stroke-linejoin="round" transform="translate(436.2 42.7) scale(0.925 1)">
<use href="#t-win" y="1.8" fill="#a4acbf" stroke="#a4acbf" stroke-width="5.8" filter="url(#sh)"/>
<use href="#t-win" fill="#fff" stroke="#fff" stroke-width="6.2"/>
<use href="#t-win" fill="#27477e" stroke="#27477e" stroke-width="4.2"/>
<text fill="url(#gw)" stroke="url(#gw)" stroke-width="0.9">Win</text>
</g>
<use href="#vs" x="300" y="105"/>
<line class="dv" x1="14.2" y1="65.9" x2="310.4" y2="65.9"/>
<line class="ax" x1="14.2" y1="209" x2="310.4" y2="209"/>
<path class="r" d="M49.4 208.6 V201.74 q0 -1.4 1.4 -1.4 h8.4 q1.4 0 1.4 1.4 V208.6 z"/>
<path class="bd" d="M41.85 187.24 h26.3 a1.7 1.7 0 0 1 1.7 1.7 v6.4 a1.7 1.7 0 0 1 -1.7 1.7 h-11.75 l-1.4 1.4 l-1.4 -1.4 h-11.75 a1.7 1.7 0 0 1 -1.7 -1.7 v-6.4 a1.7 1.7 0 0 1 1.7 -1.7 z"/>
<text class="v" x="55" y="195.04">39821</text>
<use href="#av-tsubaki" x="39.1" y="212.6"/>
<g class="n"><title>ツバキ</title>
<text transform="translate(52.2 247.4) skewX(-12)" font-size="7.2">ツバキ</text>
</g>
<path class="r" d="M91.7 208.6 V202.94 q0 -1.4 1.4 -1.4 h8.4 q1.4 0 1.4 1.4 V208.6 z"/>
<path class="bd" d="M84.15 188.44 h26.3 a1.7 1.7 0 0 1 1.7 1.7 v6.4 a1.7 1.7 0 0 1 -1.7 1.7 h-11.75 l-1.4 1.4 l-1.4 -1.4 h-11.75 a1.7 1.7 0 0 1 -1.7 -1.7 v-6.4 a1.7 1.7 0 0 1 1.7 -1.7 z"/>
<text class="v" x="97.3" y="196.24">29138</text>
<use href="#av-kanoe" x="81.4" y="212.6"/>
<g class="n"><title>カノエ</title>
<text transform="translate(94.5 247.4) skewX(-12)" font-size="7.2">カノエ</text>
</g>
<path class="r" d="M134 208.6 V167.04 q0 -1.4 1.4 -1.4 h8.4 q1.4 0 1.4 1.4 V208.6 z"/>
<path class="bd" d="M123.95 152.54 h31.3 a1.7 1.7 0 0 1 1.7 1.7 v6.4 a1.7 1.7 0 0 1 -1.7 1.7 h-14.25 l-1.4 1.4 l-1.4 -1.4 h-14.25 a1.7 1.7 0 0 1 -1.7 -1.7 v-6.4 a1.7 1.7 0 0 1 1.7 -1.7 z"/>
<text class="v" x="139.6" y="160.34">349811</text>
<use href="#av-eimi" x="123.7" y="212.6"/>
<g class="n"><title>エイミ</title>
<text transform="translate(136.8 247.4) skewX(-12)" font-size="7.2">エイミ</text>
</g>
<path class="r" d="M176.3 208.6 V156.34 q0 -1.4 1.4 -1.4 h8.4 q1.4 0 1.4 1.4 V208.6 z"/>
<path class="bd" d="M166.25 141.84 h31.3 a1.7 1.7 0 0 1 1.7 1.7 v6.4 a1.7 1.7 0 0 1 -1.7 1.7 h-14.25 l-1.4 1.4 l-1.4 -1.4 h-14.25 a1.7 1.7 0 0 1 -1.7 -1.7 v-6.4 a1.7 1.7 0 0 1 1.7 -1.7 z"/>
<text class="v" x="181.9" y="149.64">445398</text>
<use href="#av-iori" x="166" y="212.6"/>
<g class="n"><title>イオリ</title>
<text transform="translate(179.1 247.4) skewX(-12)" font-size="7.2">イオリ</text>
</g>
<path class="b" d="M218.6 208.6 V135.26 q0 -1.4 1.4 -1.4 h8.4 q1.4 0 1.4 1.4 V208.6 z"/>
<path class="bd" d="M208.55 120.76 h31.3 a1.7 1.7 0 0 1 1.7 1.7 v6.4 a1.7 1.7 0 0 1 -1.7 1.7 h-14.25 l-1.4 1.4 l-1.4 -1.4 h-14.25 a1.7 1.7 0 0 1 -1.7 -1.7 v-6.4 a1.7 1.7 0 0 1 1.7 -1.7 z"/>
<text class="v" x="224.2" y="128.56">633797</text>
<use href="#av-shirokos" x="208.3" y="212.6"/>
<g class="n"><title>シロコ（水着）</title>
<text transform="translate(221.4 247.4) skewX(-12)" font-size="7.2">シロコ（水</text>
<text transform="translate(221.4 255.1) skewX(-12)" font-size="7.2">着）</text>
</g>
<path class="b" d="M260.9 208.6 V94.2 q0 -1.4 1.4 -1.4 h8.4 q1.4 0 1.4 1.4 V208.6 z"/>
<path class="bd" d="M248.35 79.7 h36.3 a1.7 1.7 0 0 1 1.7 1.7 v6.4 a1.7 1.7 0 0 1 -1.7 1.7 h-16.75 l-1.4 1.4 l-1.4 -1.4 h-16.75 a1.7 1.7 0 0 1 -1.7 -1.7 v-6.4 a1.7 1.7 0 0 1 1.7 -1.7 z"/>
<text class="v" x="266.5" y="87.5">1000581</text>
<use href="#av-hibiki" x="250.6" y="212.6"/>
<g class="n"><title>ヒビキ</title>
<text transform="translate(263.7 247.4) skewX(-12)" font-size="7.2">ヒビキ</text>
</g>
<line class="dv" x1="372" y1="65.9" x2="668.2" y2="65.9"/>
<line class="ax" x1="372" y1="209" x2="668.2" y2="209"/>
<path class="r" d="M407.9 208.6 V117.82 q0 -1.4 1.4 -1.4 h8.4 q1.4 0 1.4 1.4 V208.6 z"/>
<path class="bd" d="M397.85 103.32 h31.3 a1.7 1.7 0 0 1 1.7 1.7 v6.4 a1.7 1.7 0 0 1 -1.7 1.7 h-14.25 l-1.4 1.4 l-1.4 -1.4 h-14.25 a1.7 1.7 0 0 1 -1.7 -1.7 v-6.4 a1.7 1.7 0 0 1 1.7 -1.7 z"/>
<text class="v" x="413.5" y="111.12">789592</text>
<use href="#av-yuzu" x="397.6" y="212.6"/>
<g class="n"><title>ユズ</title>
<text transform="translate(410.7 247.4) skewX(-12)" font-size="7.2">ユズ</text>
</g>
<path class="r" d="M450.2 208.6 V195.79 q0 -1.4 1.4 -1.4 h8.4 q1.4 0 1.4 1.4 V208.6 z"/>
<path class="bd" d="M442.65 181.29 h26.3 a1.7 1.7 0 0 1 1.7 1.7 v6.4 a1.7 1.7 0 0 1 -1.7 1.7 h-11.75 l-1.4 1.4 l-1.4 -1.4 h-11.75 a1.7 1.7 0 0 1 -1.7 -1.7 v-6.4 a1.7 1.7 0 0 1 1.7 -1.7 z"/>
<text class="v" x="455.8" y="189.09">93022</text>
<use href="#av-tsubaki" x="439.9" y="212.6"/>
<g class="n"><title>ツバキ</title>
<text transform="translate(453 247.4) skewX(-12)" font-size="7.2">ツバキ</text>
</g>
<path class="r" d="M492.5 208.6 V190.32 q0 -1.4 1.4 -1.4 h8.4 q1.4 0 1.4 1.4 V208.6 z"/>
<path class="bd" d="M482.45 175.82 h31.3 a1.7 1.7 0 0 1 1.7 1.7 v6.4 a1.7 1.7 0 0 1 -1.7 1.7 h-14.25 l-1.4 1.4 l-1.4 -1.4 h-14.25 a1.7 1.7 0 0 1 -1.7 -1.7 v-6.4 a1.7 1.7 0 0 1 1.7 -1.7 z"/>
<text class="v" x="498.1" y="183.62">141843</text>
<use href="#av-neru" x="482.2" y="212.6"/>
<g class="n"><title>ネル（バニーガール）</title>
<text transform="translate(495.3 246.9) skewX(-12)" font-size="6.4">ネル（バニー</text>
<text transform="translate(495.3 253.6) skewX(-12)" font-size="6.4">ガール）</text>
</g>
<path class="r" d="M534.8 208.6 V148.84 q0 -1.4 1.4 -1.4 h8.4 q1.4 0 1.4 1.4 V208.6 z"/>
<path class="bd" d="M524.75 134.34 h31.3 a1.7 1.7 0 0 1 1.7 1.7 v6.4 a1.7 1.7 0 0 1 -1.7 1.7 h-14.25 l-1.4 1.4 l-1.4 -1.4 h-14.25 a1.7 1.7 0 0 1 -1.7 -1.7 v-6.4 a1.7 1.7 0 0 1 1.7 -1.7 z"/>
<text class="v" x="540.4" y="142.14">512422</text>
<use href="#av-eimi" x="524.5" y="212.6"/>
<g class="n"><title>エイミ</title>
<text transform="translate(537.6 247.4) skewX(-12)" font-size="7.2">エイミ</text>
</g>
<path class="b" d="M577.1 208.6 V171.28 q0 -1.4 1.4 -1.4 h8.4 q1.4 0 1.4 1.4 V208.6 z"/>
<path class="bd" d="M567.05 156.78 h31.3 a1.7 1.7 0 0 1 1.7 1.7 v6.4 a1.7 1.7 0 0 1 -1.7 1.7 h-14.25 l-1.4 1.4 l-1.4 -1.4 h-14.25 a1.7 1.7 0 0 1 -1.7 -1.7 v-6.4 a1.7 1.7 0 0 1 1.7 -1.7 z"/>
<text class="v" x="582.7" y="164.58">311940</text>
<use href="#av-saki" x="566.8" y="212.6"/>
<g class="n"><title>サキ</title>
<text transform="translate(579.9 247.4) skewX(-12)" font-size="7.2">サキ</text>
</g>
<path class="b" d="M619.4 208.6 V157.25 q0 -1.4 1.4 -1.4 h8.4 q1.4 0 1.4 1.4 V208.6 z"/>
<path class="bd" d="M609.35 142.75 h31.3 a1.7 1.7 0 0 1 1.7 1.7 v6.4 a1.7 1.7 0 0 1 -1.7 1.7 h-14.25 l-1.4 1.4 l-1.4 -1.4 h-14.25 a1.7 1.7 0 0 1 -1.7 -1.7 v-6.4 a1.7 1.7 0 0 1 1.7 -1.7 z"/>
<text class="v" x="625" y="150.55">437312</text>
<use href="#av-hibiki" x="609.1" y="212.6"/>
<g class="n"><title>ヒビキ</title>
<text transform="translate(622.2 247.4) skewX(-12)" font-size="7.2">ヒビキ</text>
</g>
</g>
<g transform="translate(682.5 787.5)">
<path fill="#ffe2d9" d="M364.6 0 H682.5 V262.5 H318.8 z"/>
<rect x="120" y="0" width="189" height="56.2" fill="#fff"/>
<rect x="475.5" y="0" width="195.5" height="56.2" fill="#fff"/>
<use href="#shield" transform="translate(17.4 19.5) scale(0.96)"/>
<use href="#sword" x="372" y="18.5"/>
<g class="hd" font-size="25.4" text-anchor="middle" stroke-linejoin="round" transform="translate(79.4 41.3) scale(0.935 1)">
<use href="#t-lose" y="1.8" fill="#a8a0a6" stroke="#a8a0a6" stroke-width="5.8" filter="url(#sh)"/>
<use href="#t-lose" fill="#fff" stroke="#fff" stroke-width="6.2"/>
<use href="#t-lose" fill="#4a4a4e" stroke="#4a4a4e" stroke-width="4.2"/>
<text fill="url(#gl)" stroke="url(#gl)" stroke-width="0.9">Lose</text>
</g>
<g class="hd" font-size="26" text-anchor="middle" stroke-linejoin="round" transform="translate(436.2 42.7) scale(0.925 1)">
<use href="#t-win" y="1.8" fill="#a4acbf" stroke="#a4acbf" stroke-width="5.8" filter="url(#sh)"/>
<use href="#t-win" fill="#fff" stroke="#fff" stroke-width="6.2"/>
<use href="#t-win" fill="#27477e" stroke="#27477e" stroke-width="4.2"/>
<text fill="url(#gw)" stroke="url(#gw)" stroke-width="0.9">Win</text>
</g>
<use href="#vs" x="300" y="105"/>
<line class="dv" x1="14.2" y1="65.9" x2="310.4" y2="65.9"/>
<line class="ax" x1="14.2" y1="209" x2="310.4" y2="209"/>
<path class="r" d="M49.4 208.6 V203.76 q0 -1.4 1.4 -1.4 h8.4 q1.4 0 1.4 1.4 V208.6 z"/>
<path class="bd" d="M41.85 189.26 h26.3 a1.7 1.7 0 0 1 1.7 1.7 v6.4 a1.7 1.7 0 0 1 -1.7 1.7 h-11.75 l-1.4 1.4 l-1.4 -1.4 h-11.75 a1.7 1.7 0 0 1 -1.7 -1.7 v-6.4 a1.7 1.7 0 0 1 1.7 -1.7 z"/>
<text class="v" x="55" y="197.06">28057</text>
<use href="#av-tsubaki" x="39.1" y="212.6"/>
<g class="n"><title>ツバキ</title>
<text transform="translate(52.2 247.4) skewX(-12)" font-size="7.2">ツバキ</text>
</g>
<path class="r" d="M91.7 208.6 V189.19 q0 -1.4 1.4 -1.4 h8.4 q1.4 0 1.4 1.4 V208.6 z"/>
<path class="bd" d="M81.65 174.69 h31.3 a1.7 1.7 0 0 1 1.7 1.7 v6.4 a1.7 1.7 0 0 1 -1.7 1.7 h-14.25 l-1.4 1.4 l-1.4 -1.4 h-14.25 a1.7 1.7 0 0 1 -1.7 -1.7 v-6.4 a1.7 1.7 0 0 1 1.7 -1.7 z"/>
<text class="v" x="97.3" y="182.49">195865</text>
<use href="#av-kanoe" x="81.4" y="212.6"/>
<g class="n"><title>カノエ</title>
<text transform="translate(94.5 247.4) skewX(-12)" font-size="7.2">カノエ</text>
</g>
<path class="r" d="M134 208.6 V188.61 q0 -1.4 1.4 -1.4 h8.4 q1.4 0 1.4 1.4 V208.6 z"/>
<path class="bd" d="M123.95 174.11 h31.3 a1.7 1.7 0 0 1 1.7 1.7 v6.4 a1.7 1.7 0 0 1 -1.7 1.7 h-14.25 l-1.4 1.4 l-1.4 -1.4 h-14.25 a1.7 1.7 0 0 1 -1.7 -1.7 v-6.4 a1.7 1.7 0 0 1 1.7 -1.7 z"/>
<text class="v" x="139.6" y="181.91">202576</text>
<use href="#av-eimi" x="123.7" y="212.6"/>
<g class="n"><title>エイミ</title>
<text transform="translate(136.8 247.4) skewX(-12)" font-size="7.2">エイミ</text>
</g>
<path class="r" d="M176.3 208.6 V148.93 q0 -1.4 1.4 -1.4 h8.4 q1.4 0 1.4 1.4 V208.6 z"/>
<path class="bd" d="M166.25 134.43 h31.3 a1.7 1.7 0 0 1 1.7 1.7 v6.4 a1.7 1.7 0 0 1 -1.7 1.7 h-14.25 l-1.4 1.4 l-1.4 -1.4 h-14.25 a1.7 1.7 0 0 1 -1.7 -1.7 v-6.4 a1.7 1.7 0 0 1 1.7 -1.7 z"/>
<text class="v" x="181.9" y="142.23">659571</text>
<use href="#av-iori" x="166" y="212.6"/>
<g class="n"><title>イオリ</title>
<text transform="translate(179.1 247.4) skewX(-12)" font-size="7.2">イオリ</text>
</g>
<path class="b" d="M218.6 208.6 V195.74 q0 -1.4 1.4 -1.4 h8.4 q1.4 0 1.4 1.4 V208.6 z"/>
<path class="bd" d="M208.55 181.24 h31.3 a1.7 1.7 0 0 1 1.7 1.7 v6.4 a1.7 1.7 0 0 1 -1.7 1.7 h-14.25 l-1.4 1.4 l-1.4 -1.4 h-14.25 a1.7 1.7 0 0 1 -1.7 -1.7 v-6.4 a1.7 1.7 0 0 1 1.7 -1.7 z"/>
<text class="v" x="224.2" y="189.04">120466</text>
<use href="#av-shirokos" x="208.3" y="212.6"/>
<g class="n"><title>シロコ（水着）</title>
<text transform="translate(221.4 247.4) skewX(-12)" font-size="7.2">シロコ（水</text>
<text transform="translate(221.4 255.1) skewX(-12)" font-size="7.2">着）</text>
</g>
<path class="b" d="M260.9 208.6 V157.81 q0 -1.4 1.4 -1.4 h8.4 q1.4 0 1.4 1.4 V208.6 z"/>
<path class="bd" d="M250.85 143.31 h31.3 a1.7 1.7 0 0 1 1.7 1.7 v6.4 a1.7 1.7 0 0 1 -1.7 1.7 h-14.25 l-1.4 1.4 l-1.4 -1.4 h-14.25 a1.7 1.7 0 0 1 -1.7 -1.7 v-6.4 a1.7 1.7 0 0 1 1.7 -1.7 z"/>
<text class="v" x="266.5" y="151.11">557210</text>
<use href="#av-hibiki" x="250.6" y="212.6"/>
<g class="n"><title>ヒビキ</title>
<text transform="translate(263.7 247.4) skewX(-12)" font-size="7.2">ヒビキ</text>
</g>
<line class="dv" x1="372" y1="65.9" x2="668.2" y2="65.9"/>
<line class="ax" x1="372" y1="209" x2="668.2" y2="209"/>
<path class="r" d="M407.9 208.6 V94.2 q0 -1.4 1.4 -1.4 h8.4 q1.4 0 1.4 1.4 V208.6 z"/>
<path class="bd" d="M395.35 79.7 h36.3 a1.7 1.7 0 0 1 1.7 1.7 v6.4 a1.7 1.7 0 0 1 -1.7 1.7 h-16.75 l-1.4 1.4 l-1.4 -1.4 h-16.75 a1.7 1.7 0 0 1 -1.7 -1.7 v-6.4 a1.7 1.7 0 0 1 1.7 -1.7 z"/>
<text class="v" x="413.5" y="87.5">1289778</text>
<use href="#av-shirokor" x="397.6" y="212.6"/>
<g class="n"><title>シロコ（ライディング）</title>
<text transform="translate(410.7 246.9) skewX(-12)" font-size="6.4">シロコ（ライ</text>
<text transform="translate(410.7 253.6) skewX(-12)" font-size="6.4">ディング）</text>
</g>
<path class="r" d="M450.2 208.6 V183.56 q0 -1.4 1.4 -1.4 h8.4 q1.4 0 1.4 1.4 V208.6 z"/>
<path class="bd" d="M440.15 169.06 h31.3 a1.7 1.7 0 0 1 1.7 1.7 v6.4 a1.7 1.7 0 0 1 -1.7 1.7 h-14.25 l-1.4 1.4 l-1.4 -1.4 h-14.25 a1.7 1.7 0 0 1 -1.7 -1.7 v-6.4 a1.7 1.7 0 0 1 1.7 -1.7 z"/>
<text class="v" x="455.8" y="176.86">260670</text>
<use href="#av-atsuko" x="439.9" y="212.6"/>
<g class="n"><title>アツコ</title>
<text transform="translate(453 247.4) skewX(-12)" font-size="7.2">アツコ</text>
</g>
<path class="r" d="M492.5 208.6 V184.12 q0 -1.4 1.4 -1.4 h8.4 q1.4 0 1.4 1.4 V208.6 z"/>
<path class="bd" d="M482.45 169.62 h31.3 a1.7 1.7 0 0 1 1.7 1.7 v6.4 a1.7 1.7 0 0 1 -1.7 1.7 h-14.25 l-1.4 1.4 l-1.4 -1.4 h-14.25 a1.7 1.7 0 0 1 -1.7 -1.7 v-6.4 a1.7 1.7 0 0 1 1.7 -1.7 z"/>
<text class="v" x="498.1" y="177.42">254219</text>
<use href="#av-neru" x="482.2" y="212.6"/>
<g class="n"><title>ネル（バニーガール）</title>
<text transform="translate(495.3 246.9) skewX(-12)" font-size="6.4">ネル（バニー</text>
<text transform="translate(495.3 253.6) skewX(-12)" font-size="6.4">ガール）</text>
</g>
<path class="r" d="M534.8 208.6 V176.52 q0 -1.4 1.4 -1.4 h8.4 q1.4 0 1.4 1.4 V208.6 z"/>
<path class="bd" d="M524.75 162.02 h31.3 a1.7 1.7 0 0 1 1.7 1.7 v6.4 a1.7 1.7 0 0 1 -1.7 1.7 h-14.25 l-1.4 1.4 l-1.4 -1.4 h-14.25 a1.7 1.7 0 0 1 -1.7 -1.7 v-6.4 a1.7 1.7 0 0 1 1.7 -1.7 z"/>
<text class="v" x="540.4" y="169.82">341754</text>
<use href="#av-marina" x="524.5" y="212.6"/>
<g class="n"><title>マリナ</title>
<text transform="translate(537.6 247.4) skewX(-12)" font-size="7.2">マリナ</text>
</g>
<path class="b" d="M577.1 208.6 V183.42 q0 -1.4 1.4 -1.4 h8.4 q1.4 0 1.4 1.4 V208.6 z"/>
<path class="bd" d="M567.05 168.92 h31.3 a1.7 1.7 0 0 1 1.7 1.7 v6.4 a1.7 1.7 0 0 1 -1.7 1.7 h-14.25 l-1.4 1.4 l-1.4 -1.4 h-14.25 a1.7 1.7 0 0 1 -1.7 -1.7 v-6.4 a1.7 1.7 0 0 1 1.7 -1.7 z"/>
<text class="v" x="582.7" y="176.72">262379</text>
<use href="#av-shirokos" x="566.8" y="212.6"/>
<g class="n"><title>シロコ（水着）</title>
<text transform="translate(579.9 247.4) skewX(-12)" font-size="7.2">シロコ（水</text>
<text transform="translate(579.9 255.1) skewX(-12)" font-size="7.2">着）</text>
</g>
<path class="b" d="M619.4 208.6 V144.73 q0 -1.4 1.4 -1.4 h8.4 q1.4 0 1.4 1.4 V208.6 z"/>
<path class="bd" d="M609.35 130.23 h31.3 a1.7 1.7 0 0 1 1.7 1.7 v6.4 a1.7 1.7 0 0 1 -1.7 1.7 h-14.25 l-1.4 1.4 l-1.4 -1.4 h-14.25 a1.7 1.7 0 0 1 -1.7 -1.7 v-6.4 a1.7 1.7 0 0 1 1.7 -1.7 z"/>
<text class="v" x="625" y="138.03">707840</text>
<use href="#av-saki" x="609.1" y="212.6"/>
<g class="n"><title>サキ</title>
<text transform="translate(622.2 247.4) skewX(-12)" font-size="7.2">サキ</text>
</g>
</g>
</svg></body></html>
